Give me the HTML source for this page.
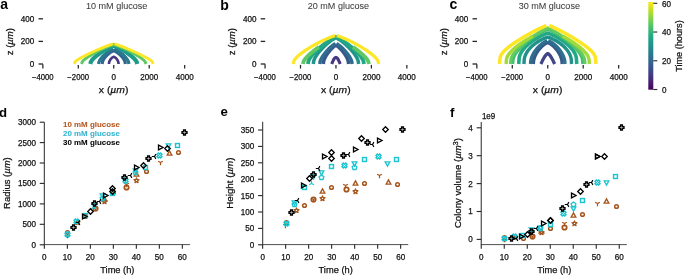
<!DOCTYPE html>
<html><head><meta charset="utf-8"><style>html,body{margin:0;padding:0;background:#fff;overflow:hidden}svg{display:block}text{font-family:"Liberation Sans", sans-serif}</style></head>
<body><svg width="685" height="275" viewBox="0 0 685 275" font-family='"Liberation Sans", sans-serif'><rect width="685" height="275" fill="#fff"/><path d="M108.95,64.00 L109.03,62.95 L109.11,62.51 L109.19,62.18 L109.27,61.90 L109.35,61.65 L109.43,61.43 L109.51,61.22 L109.59,61.03 L109.67,60.85 L109.75,60.68 L109.83,60.52 L109.91,60.37 L109.99,60.23 L110.07,60.09 L110.15,59.95 L110.23,59.82 L110.31,59.70 L110.39,59.58 L110.47,59.46 L110.55,59.35 L110.63,59.24 L110.71,59.13 L110.79,59.03 L110.87,58.93 L110.95,58.83 L111.03,58.74 L111.11,58.65 L111.19,58.56 L111.27,58.47 L111.35,58.39 L111.43,58.31 L111.51,58.23 L111.59,58.15 L111.67,58.07 L111.75,58.00 L111.83,57.93 L111.91,57.86 L111.99,57.79 L112.07,57.73 L112.15,57.66 L112.23,57.60 L112.31,57.54 L112.39,57.49 L112.47,57.43 L112.55,57.38 L112.63,57.33 L112.71,57.28 L112.79,57.23 L112.87,57.18 L112.95,57.14 L113.03,57.10 L113.11,57.05 L113.19,57.02 L113.27,56.98 L113.35,56.94 L113.43,56.91 L113.51,56.88 L113.59,56.85 L113.67,56.82 L113.75,56.80 L113.83,56.82 L113.91,56.85 L113.99,56.88 L114.07,56.91 L114.15,56.94 L114.23,56.98 L114.31,57.02 L114.39,57.05 L114.47,57.10 L114.55,57.14 L114.63,57.18 L114.71,57.23 L114.79,57.28 L114.87,57.33 L114.95,57.38 L115.03,57.43 L115.11,57.49 L115.19,57.54 L115.27,57.60 L115.35,57.66 L115.43,57.73 L115.51,57.79 L115.59,57.86 L115.67,57.93 L115.75,58.00 L115.83,58.07 L115.91,58.15 L115.99,58.23 L116.07,58.31 L116.15,58.39 L116.23,58.47 L116.31,58.56 L116.39,58.65 L116.47,58.74 L116.55,58.83 L116.63,58.93 L116.71,59.03 L116.79,59.13 L116.87,59.24 L116.95,59.35 L117.03,59.46 L117.11,59.58 L117.19,59.70 L117.27,59.82 L117.35,59.95 L117.43,60.09 L117.51,60.23 L117.59,60.37 L117.67,60.52 L117.75,60.68 L117.83,60.85 L117.91,61.03 L117.99,61.22 L118.07,61.43 L118.15,61.65 L118.23,61.90 L118.31,62.18 L118.39,62.51 L118.47,62.95 L118.55,64.00" fill="none" stroke="#453781" stroke-width="2.6" stroke-linejoin="round"/>
<path d="M102.15,64.00 L102.34,62.34 L102.54,61.65 L102.73,61.11 L102.92,60.65 L103.12,60.24 L103.31,59.87 L103.50,59.53 L103.70,59.20 L103.89,58.90 L104.08,58.61 L104.28,58.33 L104.47,58.06 L104.66,57.81 L104.86,57.56 L105.05,57.31 L105.24,57.08 L105.44,56.85 L105.63,56.63 L105.82,56.41 L106.02,56.20 L106.21,56.00 L106.40,55.79 L106.60,55.60 L106.79,55.40 L106.98,55.21 L107.18,55.03 L107.37,54.85 L107.56,54.67 L107.76,54.50 L107.95,54.32 L108.14,54.16 L108.34,53.99 L108.53,53.83 L108.72,53.68 L108.92,53.52 L109.11,53.37 L109.30,53.22 L109.50,53.08 L109.69,52.94 L109.88,52.80 L110.08,52.66 L110.27,52.53 L110.46,52.40 L110.66,52.28 L110.85,52.15 L111.04,52.03 L111.24,51.92 L111.43,51.80 L111.62,51.69 L111.82,51.59 L112.01,51.48 L112.20,51.38 L112.40,51.28 L112.59,51.19 L112.78,51.10 L112.98,51.01 L113.17,50.93 L113.36,50.85 L113.56,50.77 L113.75,50.70 L113.94,50.77 L114.14,50.85 L114.33,50.93 L114.52,51.01 L114.72,51.10 L114.91,51.19 L115.10,51.28 L115.30,51.38 L115.49,51.48 L115.68,51.59 L115.88,51.69 L116.07,51.80 L116.26,51.92 L116.46,52.03 L116.65,52.15 L116.84,52.28 L117.04,52.40 L117.23,52.53 L117.42,52.66 L117.62,52.80 L117.81,52.94 L118.00,53.08 L118.20,53.22 L118.39,53.37 L118.58,53.52 L118.78,53.68 L118.97,53.83 L119.16,53.99 L119.36,54.16 L119.55,54.32 L119.74,54.50 L119.94,54.67 L120.13,54.85 L120.32,55.03 L120.52,55.21 L120.71,55.40 L120.90,55.60 L121.10,55.79 L121.29,56.00 L121.48,56.20 L121.68,56.41 L121.87,56.63 L122.06,56.85 L122.26,57.08 L122.45,57.31 L122.64,57.56 L122.84,57.81 L123.03,58.06 L123.22,58.33 L123.42,58.61 L123.61,58.90 L123.80,59.20 L124.00,59.53 L124.19,59.87 L124.38,60.24 L124.58,60.65 L124.77,61.11 L124.96,61.65 L125.16,62.34 L125.35,64.00" fill="none" stroke="#31678e" stroke-width="3.2" stroke-linejoin="round"/>
<path d="M98.65,64.00 L98.89,62.31 L99.13,61.60 L99.38,61.04 L99.62,60.56 L99.86,60.14 L100.10,59.74 L100.34,59.37 L100.58,59.03 L100.83,58.70 L101.07,58.38 L101.31,58.07 L101.55,57.78 L101.79,57.49 L102.03,57.21 L102.28,56.94 L102.52,56.68 L102.76,56.42 L103.00,56.16 L103.24,55.92 L103.48,55.67 L103.72,55.43 L103.97,55.20 L104.21,54.97 L104.45,54.74 L104.69,54.51 L104.93,54.29 L105.17,54.08 L105.42,53.86 L105.66,53.65 L105.90,53.44 L106.14,53.24 L106.38,53.04 L106.62,52.84 L106.87,52.65 L107.11,52.45 L107.35,52.27 L107.59,52.08 L107.83,51.90 L108.08,51.72 L108.32,51.54 L108.56,51.37 L108.80,51.19 L109.04,51.03 L109.28,50.86 L109.53,50.70 L109.77,50.54 L110.01,50.38 L110.25,50.23 L110.49,50.08 L110.73,49.94 L110.97,49.79 L111.22,49.65 L111.46,49.52 L111.70,49.38 L111.94,49.25 L112.18,49.13 L112.42,49.01 L112.67,48.89 L112.91,48.77 L113.15,48.66 M114.35,48.66 L114.59,48.77 L114.83,48.89 L115.08,49.01 L115.32,49.13 L115.56,49.25 L115.80,49.38 L116.04,49.52 L116.28,49.65 L116.53,49.79 L116.77,49.94 L117.01,50.08 L117.25,50.23 L117.49,50.38 L117.73,50.54 L117.97,50.70 L118.22,50.86 L118.46,51.03 L118.70,51.19 L118.94,51.37 L119.18,51.54 L119.42,51.72 L119.67,51.90 L119.91,52.08 L120.15,52.27 L120.39,52.45 L120.63,52.65 L120.88,52.84 L121.12,53.04 L121.36,53.24 L121.60,53.44 L121.84,53.65 L122.08,53.86 L122.33,54.08 L122.57,54.29 L122.81,54.51 L123.05,54.74 L123.29,54.97 L123.53,55.20 L123.78,55.43 L124.02,55.67 L124.26,55.92 L124.50,56.16 L124.74,56.42 L124.98,56.68 L125.22,56.94 L125.47,57.21 L125.71,57.49 L125.95,57.78 L126.19,58.07 L126.43,58.38 L126.67,58.70 L126.92,59.03 L127.16,59.37 L127.40,59.74 L127.64,60.14 L127.88,60.56 L128.12,61.04 L128.37,61.60 L128.61,62.31 L128.85,64.00" fill="none" stroke="#2a788e" stroke-width="3.2" stroke-linejoin="round"/>
<path d="M90.35,64.00 L90.74,62.16 L91.13,61.37 L91.52,60.75 L91.91,60.21 L92.30,59.73 L92.69,59.28 L93.08,58.86 L93.47,58.46 L93.86,58.08 L94.25,57.71 L94.64,57.36 L95.03,57.01 L95.42,56.67 L95.81,56.35 L96.20,56.02 L96.59,55.71 L96.98,55.40 L97.37,55.10 L97.76,54.80 L98.15,54.50 L98.54,54.21 L98.93,53.93 L99.32,53.65 L99.71,53.37 L100.10,53.10 L100.49,52.83 L100.88,52.56 L101.27,52.30 L101.66,52.04 L102.05,51.78 L102.44,51.53 L102.83,51.28 L103.22,51.04 L103.61,50.80 L104.00,50.56 L104.39,50.32 L104.78,50.09 L105.17,49.86 L105.56,49.64 L105.95,49.41 L106.34,49.20 L106.73,48.98 L107.12,48.77 L107.51,48.56 L107.90,48.36 L108.29,48.16 L108.68,47.96 L109.07,47.77 L109.46,47.58 L109.85,47.40 L110.24,47.22 L110.63,47.04 L111.02,46.87 L111.41,46.71 L111.80,46.54 L112.19,46.39 L112.58,46.23 L112.97,46.08 L113.36,45.94 L113.75,45.80 L114.14,45.94 L114.53,46.08 L114.92,46.23 L115.31,46.39 L115.70,46.54 L116.09,46.71 L116.48,46.87 L116.87,47.04 L117.26,47.22 L117.65,47.40 L118.04,47.58 L118.43,47.77 L118.82,47.96 L119.21,48.16 L119.60,48.36 L119.99,48.56 L120.38,48.77 L120.77,48.98 L121.16,49.20 L121.55,49.41 L121.94,49.64 L122.33,49.86 L122.72,50.09 L123.11,50.32 L123.50,50.56 L123.89,50.80 L124.28,51.04 L124.67,51.28 L125.06,51.53 L125.45,51.78 L125.84,52.04 L126.23,52.30 L126.62,52.56 L127.01,52.83 L127.40,53.10 L127.79,53.37 L128.18,53.65 L128.57,53.93 L128.96,54.21 L129.35,54.50 L129.74,54.80 L130.13,55.10 L130.52,55.40 L130.91,55.71 L131.30,56.02 L131.69,56.35 L132.08,56.67 L132.47,57.01 L132.86,57.36 L133.25,57.71 L133.64,58.08 L134.03,58.46 L134.42,58.86 L134.81,59.28 L135.20,59.73 L135.59,60.21 L135.98,60.75 L136.37,61.37 L136.76,62.16 L137.15,64.00" fill="none" stroke="#1e9c89" stroke-width="4.2" stroke-linejoin="round"/>
<path d="M81.55,64.00 L82.09,62.21 L82.62,61.43 L83.16,60.82 L83.70,60.29 L84.23,59.80 L84.77,59.35 L85.31,58.92 L85.84,58.52 L86.38,58.12 L86.92,57.74 L87.45,57.38 L87.99,57.02 L88.53,56.66 L89.06,56.32 L89.60,55.98 L90.14,55.65 L90.67,55.32 L91.21,54.99 L91.75,54.68 L92.28,54.36 L92.82,54.05 L93.36,53.74 L93.89,53.44 L94.43,53.14 L94.97,52.84 L95.50,52.54 L96.04,52.25 L96.58,51.97 L97.11,51.68 L97.65,51.40 L98.19,51.12 L98.72,50.85 L99.26,50.57 L99.80,50.30 L100.33,50.04 L100.87,49.78 L101.41,49.52 L101.94,49.26 L102.48,49.01 L103.02,48.76 L103.55,48.51 L104.09,48.27 L104.63,48.03 L105.16,47.80 L105.70,47.56 L106.24,47.34 L106.77,47.11 L107.31,46.89 L107.85,46.68 L108.38,46.47 L108.92,46.26 L109.46,46.06 L109.99,45.86 L110.53,45.66 L111.07,45.47 L111.60,45.29 L112.14,45.11 L112.68,44.93 L113.21,44.76 L113.75,44.60 L114.29,44.76 L114.82,44.93 L115.36,45.11 L115.90,45.29 L116.43,45.47 L116.97,45.66 L117.51,45.86 L118.04,46.06 L118.58,46.26 L119.12,46.47 L119.65,46.68 L120.19,46.89 L120.73,47.11 L121.26,47.34 L121.80,47.56 L122.34,47.80 L122.87,48.03 L123.41,48.27 L123.95,48.51 L124.48,48.76 L125.02,49.01 L125.56,49.26 L126.09,49.52 L126.63,49.78 L127.17,50.04 L127.70,50.30 L128.24,50.57 L128.78,50.85 L129.31,51.12 L129.85,51.40 L130.39,51.68 L130.92,51.97 L131.46,52.25 L132.00,52.54 L132.53,52.84 L133.07,53.14 L133.61,53.44 L134.14,53.74 L134.68,54.05 L135.22,54.36 L135.75,54.68 L136.29,54.99 L136.83,55.32 L137.36,55.65 L137.90,55.98 L138.44,56.32 L138.97,56.66 L139.51,57.02 L140.05,57.38 L140.58,57.74 L141.12,58.12 L141.66,58.52 L142.19,58.92 L142.73,59.35 L143.27,59.80 L143.80,60.29 L144.34,60.82 L144.88,61.43 L145.41,62.21 L145.95,64.00" fill="none" stroke="#5ec962" stroke-width="2.9" stroke-linejoin="round"/>
<path d="M74.35,64.00 L75.00,62.02 L75.64,61.29 L76.28,60.73 L76.93,60.24 L77.58,59.79 L78.22,59.37 L78.87,58.98 L79.51,58.59 L80.16,58.22 L80.80,57.86 L81.44,57.51 L82.09,57.17 L82.73,56.83 L83.38,56.49 L84.03,56.16 L84.67,55.83 L85.31,55.51 L85.96,55.19 L86.61,54.87 L87.25,54.55 L87.90,54.24 L88.54,53.93 L89.19,53.62 L89.83,53.31 L90.47,53.00 L91.12,52.70 L91.77,52.40 L92.41,52.10 L93.06,51.80 L93.70,51.50 L94.34,51.21 L94.99,50.92 L95.64,50.63 L96.28,50.34 L96.92,50.06 L97.57,49.77 L98.22,49.49 L98.86,49.21 L99.51,48.94 L100.15,48.66 L100.80,48.39 L101.44,48.12 L102.09,47.86 L102.73,47.59 L103.38,47.33 L104.02,47.08 L104.66,46.82 L105.31,46.57 L105.95,46.32 L106.60,46.08 L107.24,45.83 L107.89,45.59 L108.53,45.36 L109.18,45.13 L109.83,44.90 L110.47,44.68 L111.11,44.46 L111.76,44.24 L112.41,44.03 L113.05,43.82 M114.45,43.82 L115.09,44.03 L115.74,44.24 L116.39,44.46 L117.03,44.68 L117.67,44.90 L118.32,45.13 L118.97,45.36 L119.61,45.59 L120.25,45.83 L120.90,46.08 L121.55,46.32 L122.19,46.57 L122.83,46.82 L123.48,47.08 L124.12,47.33 L124.77,47.59 L125.42,47.86 L126.06,48.12 L126.70,48.39 L127.35,48.66 L128.00,48.94 L128.64,49.21 L129.28,49.49 L129.93,49.77 L130.57,50.06 L131.22,50.34 L131.87,50.63 L132.51,50.92 L133.16,51.21 L133.80,51.50 L134.44,51.80 L135.09,52.10 L135.74,52.40 L136.38,52.70 L137.03,53.00 L137.67,53.31 L138.31,53.62 L138.96,53.93 L139.61,54.24 L140.25,54.55 L140.89,54.87 L141.54,55.19 L142.19,55.51 L142.83,55.83 L143.47,56.16 L144.12,56.49 L144.76,56.83 L145.41,57.17 L146.06,57.51 L146.70,57.86 L147.34,58.22 L147.99,58.59 L148.63,58.98 L149.28,59.37 L149.93,59.79 L150.57,60.24 L151.22,60.73 L151.86,61.29 L152.50,62.02 L153.15,64.00" fill="none" stroke="#fde725" stroke-width="2.8" stroke-linejoin="round"/>
<line x1="38.50" y1="18.80" x2="43.00" y2="18.80" stroke="#262626" stroke-width="1.3"/>
<line x1="38.50" y1="41.40" x2="43.00" y2="41.40" stroke="#262626" stroke-width="1.3"/>
<line x1="38.50" y1="64.00" x2="43.00" y2="64.00" stroke="#262626" stroke-width="1.3"/>
<line x1="42.85" y1="64.35" x2="42.85" y2="68.50" stroke="#262626" stroke-width="1.25"/>
<line x1="78.30" y1="64.90" x2="78.30" y2="68.50" stroke="#262626" stroke-width="1.25"/>
<line x1="113.75" y1="64.90" x2="113.75" y2="68.50" stroke="#262626" stroke-width="1.25"/>
<line x1="149.20" y1="64.90" x2="149.20" y2="68.50" stroke="#262626" stroke-width="1.25"/>
<line x1="184.65" y1="64.90" x2="184.65" y2="68.50" stroke="#262626" stroke-width="1.25"/>
<path d="M331.75,64.00 L331.82,63.80 L331.89,63.61 L331.96,63.42 L332.03,63.23 L332.10,63.04 L332.17,62.86 L332.24,62.68 L332.31,62.50 L332.38,62.33 L332.45,62.15 L332.52,61.98 L332.59,61.82 L332.66,61.65 L332.73,61.49 L332.80,61.33 L332.87,61.18 L332.94,61.02 L333.01,60.87 L333.08,60.73 L333.15,60.58 L333.22,60.44 L333.29,60.30 L333.36,60.16 L333.43,60.03 L333.50,59.90 L333.57,59.77 L333.64,59.65 L333.71,59.53 L333.78,59.41 L333.85,59.30 L333.92,59.18 L333.99,59.07 L334.06,58.97 L334.13,58.86 L334.20,58.77 L334.27,58.67 L334.34,58.57 L334.41,58.48 L334.48,58.40 L334.55,58.31 L334.62,58.23 L334.69,58.16 L334.76,58.08 L334.83,58.01 L334.90,57.94 L334.97,57.88 L335.04,57.82 L335.11,57.76 L335.18,57.71 L335.25,57.66 L335.32,57.62 L335.39,57.58 L335.46,57.54 L335.53,57.50 L335.60,57.48 L335.67,57.45 L335.74,57.43 L335.81,57.41 L335.88,57.40 L335.95,57.40 L336.02,57.40 L336.09,57.41 L336.16,57.43 L336.23,57.45 L336.30,57.48 L336.37,57.50 L336.44,57.54 L336.51,57.58 L336.58,57.62 L336.65,57.66 L336.72,57.71 L336.79,57.76 L336.86,57.82 L336.93,57.88 L337.00,57.94 L337.07,58.01 L337.14,58.08 L337.21,58.16 L337.28,58.23 L337.35,58.31 L337.42,58.40 L337.49,58.48 L337.56,58.57 L337.63,58.67 L337.70,58.77 L337.77,58.86 L337.84,58.97 L337.91,59.07 L337.98,59.18 L338.05,59.30 L338.12,59.41 L338.19,59.53 L338.26,59.65 L338.33,59.77 L338.40,59.90 L338.47,60.03 L338.54,60.16 L338.61,60.30 L338.68,60.44 L338.75,60.58 L338.82,60.73 L338.89,60.87 L338.96,61.02 L339.03,61.18 L339.10,61.33 L339.17,61.49 L339.24,61.65 L339.31,61.82 L339.38,61.98 L339.45,62.15 L339.52,62.33 L339.59,62.50 L339.66,62.68 L339.73,62.86 L339.80,63.04 L339.87,63.23 L339.94,63.42 L340.01,63.61 L340.08,63.80 L340.15,64.00" fill="none" stroke="#453781" stroke-width="3.1" stroke-linejoin="round"/>
<path d="M323.35,64.00 L323.56,61.86 L323.77,60.95 L323.98,60.25 L324.19,59.64 L324.40,59.10 L324.61,58.61 L324.82,58.15 L325.03,57.71 L325.24,57.30 L325.45,56.90 L325.66,56.52 L325.87,56.15 L326.08,55.79 L326.29,55.45 L326.50,55.11 L326.71,54.78 L326.92,54.46 L327.13,54.15 L327.34,53.84 L327.55,53.54 L327.76,53.24 L327.97,52.95 L328.18,52.67 L328.39,52.39 L328.60,52.11 L328.81,51.85 L329.02,51.58 L329.23,51.32 L329.44,51.06 L329.65,50.81 L329.86,50.56 L330.07,50.32 L330.28,50.08 L330.49,49.85 L330.70,49.62 L330.91,49.39 L331.12,49.17 L331.33,48.95 L331.54,48.73 L331.75,48.52 L331.96,48.31 L332.17,48.11 L332.38,47.91 L332.59,47.72 L332.80,47.53 L333.01,47.34 L333.22,47.16 L333.43,46.98 L333.64,46.81 L333.85,46.64 L334.06,46.47 L334.27,46.31 L334.48,46.16 L334.69,46.01 L334.90,45.86 L335.11,45.72 L335.32,45.58 L335.53,45.45 L335.74,45.32 L335.95,45.20 L336.16,45.32 L336.37,45.45 L336.58,45.58 L336.79,45.72 L337.00,45.86 L337.21,46.01 L337.42,46.16 L337.63,46.31 L337.84,46.47 L338.05,46.64 L338.26,46.81 L338.47,46.98 L338.68,47.16 L338.89,47.34 L339.10,47.53 L339.31,47.72 L339.52,47.91 L339.73,48.11 L339.94,48.31 L340.15,48.52 L340.36,48.73 L340.57,48.95 L340.78,49.17 L340.99,49.39 L341.20,49.62 L341.41,49.85 L341.62,50.08 L341.83,50.32 L342.04,50.56 L342.25,50.81 L342.46,51.06 L342.67,51.32 L342.88,51.58 L343.09,51.85 L343.30,52.11 L343.51,52.39 L343.72,52.67 L343.93,52.95 L344.14,53.24 L344.35,53.54 L344.56,53.84 L344.77,54.15 L344.98,54.46 L345.19,54.78 L345.40,55.11 L345.61,55.45 L345.82,55.79 L346.03,56.15 L346.24,56.52 L346.45,56.90 L346.66,57.30 L346.87,57.71 L347.08,58.15 L347.29,58.61 L347.50,59.10 L347.71,59.64 L347.92,60.25 L348.13,60.95 L348.34,61.86 L348.55,64.00" fill="none" stroke="#38588c" stroke-width="3.5" stroke-linejoin="round"/>
<path d="M319.85,64.00 L320.11,61.83 L320.37,60.91 L320.62,60.19 L320.88,59.57 L321.14,59.01 L321.40,58.50 L321.66,58.02 L321.92,57.57 L322.18,57.14 L322.43,56.72 L322.69,56.32 L322.95,55.93 L323.21,55.55 L323.47,55.18 L323.72,54.83 L323.98,54.47 L324.24,54.13 L324.50,53.79 L324.76,53.46 L325.02,53.14 L325.27,52.82 L325.53,52.51 L325.79,52.20 L326.05,51.89 L326.31,51.59 L326.57,51.30 L326.82,51.01 L327.08,50.72 L327.34,50.44 L327.60,50.16 L327.86,49.88 L328.12,49.61 L328.38,49.34 L328.63,49.08 L328.89,48.82 L329.15,48.57 L329.41,48.31 L329.67,48.07 L329.93,47.82 L330.18,47.58 L330.44,47.34 L330.70,47.11 L330.96,46.88 L331.22,46.66 L331.47,46.44 L331.73,46.22 L331.99,46.01 L332.25,45.80 L332.51,45.59 L332.77,45.39 L333.02,45.20 L333.28,45.01 L333.54,44.82 L333.80,44.64 L334.06,44.46 L334.32,44.28 L334.57,44.12 L334.83,43.95 L335.09,43.79 L335.35,43.64 M336.55,43.64 L336.81,43.79 L337.07,43.95 L337.32,44.12 L337.58,44.28 L337.84,44.46 L338.10,44.64 L338.36,44.82 L338.62,45.01 L338.88,45.20 L339.13,45.39 L339.39,45.59 L339.65,45.80 L339.91,46.01 L340.17,46.22 L340.43,46.44 L340.68,46.66 L340.94,46.88 L341.20,47.11 L341.46,47.34 L341.72,47.58 L341.97,47.82 L342.23,48.07 L342.49,48.31 L342.75,48.57 L343.01,48.82 L343.27,49.08 L343.52,49.34 L343.78,49.61 L344.04,49.88 L344.30,50.16 L344.56,50.44 L344.82,50.72 L345.07,51.01 L345.33,51.30 L345.59,51.59 L345.85,51.89 L346.11,52.20 L346.37,52.51 L346.62,52.82 L346.88,53.14 L347.14,53.46 L347.40,53.79 L347.66,54.13 L347.92,54.47 L348.18,54.83 L348.43,55.18 L348.69,55.55 L348.95,55.93 L349.21,56.32 L349.47,56.72 L349.72,57.14 L349.98,57.57 L350.24,58.02 L350.50,58.50 L350.76,59.01 L351.02,59.57 L351.27,60.19 L351.53,60.91 L351.79,61.83 L352.05,64.00" fill="none" stroke="#2f6c8e" stroke-width="3.5" stroke-linejoin="round"/>
<path d="M313.30,64.00 L313.68,61.19 L314.06,60.00 L314.43,59.06 L314.81,58.26 L315.19,57.54 L315.56,56.87 L315.94,56.25 L316.32,55.66 L316.70,55.09 L317.07,54.55 L317.45,54.03 L317.83,53.52 L318.21,53.03 L318.58,52.55 L318.96,52.08 L319.34,51.63 L319.72,51.18 L320.09,50.74 L320.47,50.31 L320.85,49.89 L321.23,49.47 L321.61,49.06 L321.98,48.66 L322.36,48.26 L322.74,47.87 L323.12,47.49 L323.49,47.11 L323.87,46.74 L324.25,46.37 L324.62,46.01 L325.00,45.65 L325.38,45.30 L325.76,44.95 L326.13,44.61 L326.51,44.28 L326.89,43.95 L327.27,43.62 L327.64,43.30 L328.02,42.99 L328.40,42.68 L328.78,42.37 L329.15,42.07 L329.53,41.78 L329.91,41.49 L330.29,41.21 L330.66,40.93 L331.04,40.66 L331.42,40.40 L331.80,40.14 L332.18,39.88 L332.55,39.64 L332.93,39.39 L333.31,39.16 L333.69,38.93 L334.06,38.71 L334.44,38.49 L334.82,38.28 L335.19,38.08 L335.57,37.89 L335.95,37.70 L336.33,37.89 L336.70,38.08 L337.08,38.28 L337.46,38.49 L337.84,38.71 L338.21,38.93 L338.59,39.16 L338.97,39.39 L339.35,39.64 L339.72,39.88 L340.10,40.14 L340.48,40.40 L340.86,40.66 L341.24,40.93 L341.61,41.21 L341.99,41.49 L342.37,41.78 L342.75,42.07 L343.12,42.37 L343.50,42.68 L343.88,42.99 L344.25,43.30 L344.63,43.62 L345.01,43.95 L345.39,44.28 L345.76,44.61 L346.14,44.95 L346.52,45.30 L346.90,45.65 L347.27,46.01 L347.65,46.37 L348.03,46.74 L348.41,47.11 L348.78,47.49 L349.16,47.87 L349.54,48.26 L349.92,48.66 L350.29,49.06 L350.67,49.47 L351.05,49.89 L351.43,50.31 L351.81,50.74 L352.18,51.18 L352.56,51.63 L352.94,52.08 L353.31,52.55 L353.69,53.03 L354.07,53.52 L354.45,54.03 L354.82,54.55 L355.20,55.09 L355.58,55.66 L355.96,56.25 L356.33,56.87 L356.71,57.54 L357.09,58.26 L357.47,59.06 L357.84,60.00 L358.22,61.19 L358.60,64.00" fill="none" stroke="#1f958b" stroke-width="3.5" stroke-linejoin="round"/>
<path d="M307.95,64.00 L308.42,61.26 L308.88,60.09 L309.35,59.17 L309.82,58.38 L310.28,57.66 L310.75,57.00 L311.22,56.37 L311.68,55.78 L312.15,55.22 L312.62,54.67 L313.08,54.14 L313.55,53.63 L314.02,53.13 L314.48,52.65 L314.95,52.17 L315.42,51.70 L315.88,51.24 L316.35,50.79 L316.82,50.35 L317.28,49.91 L317.75,49.48 L318.22,49.06 L318.68,48.64 L319.15,48.23 L319.62,47.83 L320.08,47.43 L320.55,47.03 L321.02,46.64 L321.48,46.26 L321.95,45.88 L322.42,45.50 L322.88,45.14 L323.35,44.77 L323.82,44.41 L324.28,44.06 L324.75,43.71 L325.22,43.36 L325.68,43.03 L326.15,42.69 L326.62,42.36 L327.08,42.04 L327.55,41.72 L328.02,41.41 L328.48,41.10 L328.95,40.80 L329.42,40.50 L329.88,40.21 L330.35,39.93 L330.82,39.65 L331.28,39.37 L331.75,39.11 L332.22,38.85 L332.68,38.59 L333.15,38.34 L333.62,38.10 L334.08,37.87 L334.55,37.64 L335.02,37.42 L335.48,37.21 L335.95,37.00 L336.42,37.21 L336.88,37.42 L337.35,37.64 L337.82,37.87 L338.28,38.10 L338.75,38.34 L339.22,38.59 L339.68,38.85 L340.15,39.11 L340.62,39.37 L341.08,39.65 L341.55,39.93 L342.02,40.21 L342.48,40.50 L342.95,40.80 L343.42,41.10 L343.88,41.41 L344.35,41.72 L344.82,42.04 L345.28,42.36 L345.75,42.69 L346.22,43.03 L346.68,43.36 L347.15,43.71 L347.62,44.06 L348.08,44.41 L348.55,44.77 L349.02,45.14 L349.48,45.50 L349.95,45.88 L350.42,46.26 L350.88,46.64 L351.35,47.03 L351.82,47.43 L352.28,47.83 L352.75,48.23 L353.22,48.64 L353.68,49.06 L354.15,49.48 L354.62,49.91 L355.08,50.35 L355.55,50.79 L356.02,51.24 L356.48,51.70 L356.95,52.17 L357.42,52.65 L357.88,53.13 L358.35,53.63 L358.82,54.14 L359.28,54.67 L359.75,55.22 L360.22,55.78 L360.68,56.37 L361.15,57.00 L361.62,57.66 L362.08,58.38 L362.55,59.17 L363.02,60.09 L363.48,61.26 L363.95,64.00" fill="none" stroke="#22a884" stroke-width="3.8" stroke-linejoin="round"/>
<path d="M303.05,64.00 L303.31,62.28 L303.58,61.55 L303.84,60.98 L304.11,60.49 L304.38,60.05 L304.64,59.65 L304.90,59.28 L305.17,58.93 L305.44,58.59 L305.70,58.26 L305.96,57.95 L306.23,57.65 L306.50,57.36 L306.76,57.07 L307.02,56.79 L307.29,56.52 L307.56,56.25 L307.82,55.98 L308.08,55.72 L308.35,55.47 L308.62,55.22 L308.88,54.97 L309.14,54.72 L309.41,54.48 L309.68,54.24 L309.94,54.00 L310.20,53.77 L310.47,53.53 L310.74,53.30 L311.00,53.07 L311.26,52.85 L311.53,52.62 L311.80,52.40 L312.06,52.18 L312.32,51.96 L312.59,51.74 L312.86,51.52 L313.12,51.30 L313.38,51.09 L313.65,50.88 L313.91,50.66 L314.18,50.45 L314.44,50.24 L314.71,50.04 L314.97,49.83 L315.24,49.62 L315.50,49.42 L315.77,49.22 L316.03,49.01 L316.30,48.81 L316.56,48.61 L316.83,48.41 L317.09,48.21 L317.36,48.02 L317.62,47.82 L317.89,47.63 L318.15,47.43 L318.42,47.24 L318.69,47.05 L318.95,46.86 M352.95,46.86 L353.21,47.05 L353.48,47.24 L353.75,47.43 L354.01,47.63 L354.27,47.82 L354.54,48.02 L354.81,48.21 L355.07,48.41 L355.33,48.61 L355.60,48.81 L355.87,49.01 L356.13,49.22 L356.39,49.42 L356.66,49.62 L356.93,49.83 L357.19,50.04 L357.45,50.24 L357.72,50.45 L357.99,50.66 L358.25,50.88 L358.51,51.09 L358.78,51.30 L359.04,51.52 L359.31,51.74 L359.57,51.96 L359.84,52.18 L360.10,52.40 L360.37,52.62 L360.63,52.85 L360.90,53.07 L361.16,53.30 L361.43,53.53 L361.69,53.77 L361.96,54.00 L362.22,54.24 L362.49,54.48 L362.75,54.72 L363.02,54.97 L363.28,55.22 L363.55,55.47 L363.81,55.72 L364.08,55.98 L364.34,56.25 L364.61,56.52 L364.88,56.79 L365.14,57.07 L365.40,57.36 L365.67,57.65 L365.94,57.95 L366.20,58.26 L366.46,58.59 L366.73,58.93 L367.00,59.28 L367.26,59.65 L367.52,60.05 L367.79,60.49 L368.06,60.98 L368.32,61.55 L368.58,62.28 L368.85,64.00" fill="none" stroke="#5ec962" stroke-width="3.8" stroke-linejoin="round"/>
<path d="M293.15,64.00 L293.85,61.13 L294.55,59.90 L295.25,58.94 L295.95,58.10 L296.65,57.35 L297.35,56.66 L298.05,56.01 L298.75,55.39 L299.45,54.80 L300.15,54.23 L300.85,53.67 L301.55,53.14 L302.25,52.62 L302.95,52.11 L303.65,51.61 L304.35,51.12 L305.05,50.64 L305.75,50.17 L306.45,49.71 L307.15,49.25 L307.85,48.80 L308.55,48.36 L309.25,47.92 L309.95,47.49 L310.65,47.07 L311.35,46.65 L312.05,46.24 L312.75,45.83 L313.45,45.43 L314.15,45.03 L314.85,44.64 L315.55,44.25 L316.25,43.87 L316.95,43.49 L317.65,43.12 L318.35,42.75 L319.05,42.39 L319.75,42.04 L320.45,41.69 L321.15,41.34 L321.85,41.00 L322.55,40.66 L323.25,40.33 L323.95,40.01 L324.65,39.69 L325.35,39.38 L326.05,39.07 L326.75,38.77 L327.45,38.47 L328.15,38.19 L328.85,37.90 L329.55,37.62 L330.25,37.35 L330.95,37.09 L331.65,36.83 L332.35,36.58 L333.05,36.34 L333.75,36.10 L334.45,35.87 L335.15,35.65 M336.75,35.65 L337.45,35.87 L338.15,36.10 L338.85,36.34 L339.55,36.58 L340.25,36.83 L340.95,37.09 L341.65,37.35 L342.35,37.62 L343.05,37.90 L343.75,38.19 L344.45,38.47 L345.15,38.77 L345.85,39.07 L346.55,39.38 L347.25,39.69 L347.95,40.01 L348.65,40.33 L349.35,40.66 L350.05,41.00 L350.75,41.34 L351.45,41.69 L352.15,42.04 L352.85,42.39 L353.55,42.75 L354.25,43.12 L354.95,43.49 L355.65,43.87 L356.35,44.25 L357.05,44.64 L357.75,45.03 L358.45,45.43 L359.15,45.83 L359.85,46.24 L360.55,46.65 L361.25,47.07 L361.95,47.49 L362.65,47.92 L363.35,48.36 L364.05,48.80 L364.75,49.25 L365.45,49.71 L366.15,50.17 L366.85,50.64 L367.55,51.12 L368.25,51.61 L368.95,52.11 L369.65,52.62 L370.35,53.14 L371.05,53.67 L371.75,54.23 L372.45,54.80 L373.15,55.39 L373.85,56.01 L374.55,56.66 L375.25,57.35 L375.95,58.10 L376.65,58.94 L377.35,59.90 L378.05,61.13 L378.75,64.00" fill="none" stroke="#fde725" stroke-width="3.2" stroke-linejoin="round"/>
<line x1="260.70" y1="18.80" x2="265.20" y2="18.80" stroke="#262626" stroke-width="1.3"/>
<line x1="260.70" y1="41.40" x2="265.20" y2="41.40" stroke="#262626" stroke-width="1.3"/>
<line x1="260.70" y1="64.00" x2="265.20" y2="64.00" stroke="#262626" stroke-width="1.3"/>
<line x1="265.05" y1="64.35" x2="265.05" y2="68.50" stroke="#262626" stroke-width="1.25"/>
<line x1="300.50" y1="64.90" x2="300.50" y2="68.50" stroke="#262626" stroke-width="1.25"/>
<line x1="335.95" y1="64.90" x2="335.95" y2="68.50" stroke="#262626" stroke-width="1.25"/>
<line x1="371.40" y1="64.90" x2="371.40" y2="68.50" stroke="#262626" stroke-width="1.25"/>
<line x1="406.85" y1="64.90" x2="406.85" y2="68.50" stroke="#262626" stroke-width="1.25"/>
<path d="M540.85,64.00 L540.97,63.74 L541.08,63.48 L541.20,63.23 L541.31,62.98 L541.42,62.73 L541.54,62.48 L541.65,62.23 L541.77,61.99 L541.88,61.75 L542.00,61.51 L542.12,61.28 L542.23,61.04 L542.35,60.81 L542.46,60.58 L542.58,60.35 L542.69,60.13 L542.80,59.91 L542.92,59.69 L543.03,59.47 L543.15,59.26 L543.26,59.05 L543.38,58.84 L543.50,58.64 L543.61,58.43 L543.73,58.23 L543.84,58.04 L543.96,57.84 L544.07,57.65 L544.18,57.46 L544.30,57.28 L544.41,57.09 L544.53,56.92 L544.64,56.74 L544.76,56.57 L544.88,56.40 L544.99,56.23 L545.11,56.07 L545.22,55.91 L545.34,55.75 L545.45,55.60 L545.57,55.45 L545.68,55.31 L545.79,55.17 L545.91,55.03 L546.02,54.90 L546.14,54.77 L546.25,54.65 L546.37,54.53 L546.49,54.42 L546.60,54.31 L546.72,54.20 L546.83,54.11 L546.95,54.01 L547.06,53.93 L547.17,53.85 L547.29,53.78 L547.40,53.72 L547.52,53.66 L547.63,53.62 L547.75,53.60 L547.87,53.62 L547.98,53.66 L548.10,53.72 L548.21,53.78 L548.33,53.85 L548.44,53.93 L548.55,54.01 L548.67,54.11 L548.78,54.20 L548.90,54.31 L549.01,54.42 L549.13,54.53 L549.25,54.65 L549.36,54.77 L549.48,54.90 L549.59,55.03 L549.71,55.17 L549.82,55.31 L549.93,55.45 L550.05,55.60 L550.16,55.75 L550.28,55.91 L550.39,56.07 L550.51,56.23 L550.62,56.40 L550.74,56.57 L550.86,56.74 L550.97,56.92 L551.09,57.09 L551.20,57.28 L551.32,57.46 L551.43,57.65 L551.54,57.84 L551.66,58.04 L551.77,58.23 L551.89,58.43 L552.00,58.64 L552.12,58.84 L552.24,59.05 L552.35,59.26 L552.47,59.47 L552.58,59.69 L552.70,59.91 L552.81,60.13 L552.92,60.35 L553.04,60.58 L553.15,60.81 L553.27,61.04 L553.38,61.28 L553.50,61.51 L553.62,61.75 L553.73,61.99 L553.85,62.23 L553.96,62.48 L554.08,62.73 L554.19,62.98 L554.30,63.23 L554.42,63.48 L554.53,63.74 L554.65,64.00" fill="none" stroke="#414487" stroke-width="3.3" stroke-linejoin="round"/>
<path d="M533.35,64.00 L533.59,61.07 L533.83,59.84 L534.07,58.90 L534.31,58.11 L534.55,57.41 L534.79,56.77 L535.03,56.18 L535.27,55.64 L535.51,55.12 L535.75,54.64 L535.99,54.17 L536.23,53.73 L536.47,53.30 L536.71,52.89 L536.95,52.50 L537.19,52.12 L537.43,51.75 L537.67,51.39 L537.91,51.04 L538.15,50.71 L538.39,50.38 L538.63,50.06 L538.87,49.75 L539.11,49.45 L539.35,49.15 L539.59,48.87 L539.83,48.58 L540.07,48.31 L540.31,48.04 L540.55,47.78 L540.79,47.53 L541.03,47.28 L541.27,47.04 L541.51,46.80 L541.75,46.57 L541.99,46.35 L542.23,46.13 L542.47,45.92 L542.71,45.71 L542.95,45.51 L543.19,45.31 L543.43,45.12 L543.67,44.93 L543.91,44.75 L544.15,44.57 L544.39,44.40 L544.63,44.24 L544.87,44.08 L545.11,43.93 L545.35,43.78 L545.59,43.64 L545.83,43.50 L546.07,43.37 L546.31,43.24 L546.55,43.12 L546.79,43.00 L547.03,42.89 L547.27,42.79 L547.51,42.69 L547.75,42.60 L547.99,42.69 L548.23,42.79 L548.47,42.89 L548.71,43.00 L548.95,43.12 L549.19,43.24 L549.43,43.37 L549.67,43.50 L549.91,43.64 L550.15,43.78 L550.39,43.93 L550.63,44.08 L550.87,44.24 L551.11,44.40 L551.35,44.57 L551.59,44.75 L551.83,44.93 L552.07,45.12 L552.31,45.31 L552.55,45.51 L552.79,45.71 L553.03,45.92 L553.27,46.13 L553.51,46.35 L553.75,46.57 L553.99,46.80 L554.23,47.04 L554.47,47.28 L554.71,47.53 L554.95,47.78 L555.19,48.04 L555.43,48.31 L555.67,48.58 L555.91,48.87 L556.15,49.15 L556.39,49.45 L556.63,49.75 L556.87,50.06 L557.11,50.38 L557.35,50.71 L557.59,51.04 L557.83,51.39 L558.07,51.75 L558.31,52.12 L558.55,52.50 L558.79,52.89 L559.03,53.30 L559.27,53.73 L559.51,54.17 L559.75,54.64 L559.99,55.12 L560.23,55.64 L560.47,56.18 L560.71,56.77 L560.95,57.41 L561.19,58.11 L561.43,58.90 L561.67,59.84 L561.91,61.07 L562.15,64.00" fill="none" stroke="#375a8c" stroke-width="3.3" stroke-linejoin="round"/>
<path d="M530.45,64.00 L530.73,60.84 L531.01,59.52 L531.29,58.51 L531.57,57.65 L531.85,56.90 L532.13,56.21 L532.41,55.58 L532.69,54.99 L532.97,54.44 L533.25,53.91 L533.53,53.41 L533.81,52.93 L534.09,52.48 L534.37,52.03 L534.65,51.61 L534.93,51.20 L535.21,50.80 L535.49,50.42 L535.77,50.04 L536.05,49.68 L536.33,49.32 L536.61,48.98 L536.89,48.64 L537.17,48.32 L537.45,48.00 L537.73,47.69 L538.01,47.38 L538.29,47.09 L538.57,46.80 L538.85,46.51 L539.13,46.24 L539.41,45.97 L539.69,45.71 L539.97,45.45 L540.25,45.20 L540.53,44.95 L540.81,44.72 L541.09,44.48 L541.37,44.25 L541.65,44.03 L541.93,43.82 L542.21,43.61 L542.49,43.40 L542.77,43.20 L543.05,43.01 L543.33,42.82 L543.61,42.64 L543.89,42.46 L544.17,42.29 L544.45,42.13 L544.73,41.96 L545.01,41.81 L545.29,41.66 L545.57,41.52 L545.85,41.38 L546.13,41.25 L546.41,41.12 L546.69,41.00 L546.97,40.89 L547.25,40.78 M548.25,40.78 L548.53,40.89 L548.81,41.00 L549.09,41.12 L549.37,41.25 L549.65,41.38 L549.93,41.52 L550.21,41.66 L550.49,41.81 L550.77,41.96 L551.05,42.13 L551.33,42.29 L551.61,42.46 L551.89,42.64 L552.17,42.82 L552.45,43.01 L552.73,43.20 L553.01,43.40 L553.29,43.61 L553.57,43.82 L553.85,44.03 L554.13,44.25 L554.41,44.48 L554.69,44.72 L554.97,44.95 L555.25,45.20 L555.53,45.45 L555.81,45.71 L556.09,45.97 L556.37,46.24 L556.65,46.51 L556.93,46.80 L557.21,47.09 L557.49,47.38 L557.77,47.69 L558.05,48.00 L558.33,48.32 L558.61,48.64 L558.89,48.98 L559.17,49.32 L559.45,49.68 L559.73,50.04 L560.01,50.42 L560.29,50.80 L560.57,51.20 L560.85,51.61 L561.13,52.03 L561.41,52.48 L561.69,52.93 L561.97,53.41 L562.25,53.91 L562.53,54.44 L562.81,54.99 L563.09,55.58 L563.37,56.21 L563.65,56.90 L563.93,57.65 L564.21,58.51 L564.49,59.52 L564.77,60.84 L565.05,64.00" fill="none" stroke="#2e6f8e" stroke-width="3.3" stroke-linejoin="round"/>
<path d="M523.90,64.00 L524.30,58.83 L524.70,57.17 L525.09,55.95 L525.49,54.95 L525.89,54.08 L526.28,53.31 L526.68,52.61 L527.08,51.96 L527.48,51.36 L527.88,50.80 L528.27,50.26 L528.67,49.75 L529.07,49.27 L529.47,48.80 L529.86,48.36 L530.26,47.93 L530.66,47.51 L531.05,47.11 L531.45,46.72 L531.85,46.35 L532.25,45.98 L532.64,45.63 L533.04,45.28 L533.44,44.94 L533.84,44.62 L534.24,44.30 L534.63,43.99 L535.03,43.68 L535.43,43.39 L535.83,43.10 L536.22,42.82 L536.62,42.54 L537.02,42.27 L537.41,42.01 L537.81,41.75 L538.21,41.50 L538.61,41.26 L539.00,41.02 L539.40,40.79 L539.80,40.56 L540.20,40.34 L540.60,40.13 L540.99,39.92 L541.39,39.71 L541.79,39.52 L542.18,39.32 L542.58,39.13 L542.98,38.95 L543.38,38.78 L543.77,38.60 L544.17,38.44 L544.57,38.28 L544.97,38.12 L545.37,37.97 L545.76,37.83 L546.16,37.69 L546.56,37.56 L546.96,37.44 L547.35,37.31 L547.75,37.20 L548.15,37.31 L548.54,37.44 L548.94,37.56 L549.34,37.69 L549.74,37.83 L550.13,37.97 L550.53,38.12 L550.93,38.28 L551.33,38.44 L551.73,38.60 L552.12,38.78 L552.52,38.95 L552.92,39.13 L553.32,39.32 L553.71,39.52 L554.11,39.71 L554.51,39.92 L554.90,40.13 L555.30,40.34 L555.70,40.56 L556.10,40.79 L556.50,41.02 L556.89,41.26 L557.29,41.50 L557.69,41.75 L558.09,42.01 L558.48,42.27 L558.88,42.54 L559.28,42.82 L559.67,43.10 L560.07,43.39 L560.47,43.68 L560.87,43.99 L561.26,44.30 L561.66,44.62 L562.06,44.94 L562.46,45.28 L562.86,45.63 L563.25,45.98 L563.65,46.35 L564.05,46.72 L564.45,47.11 L564.84,47.51 L565.24,47.93 L565.64,48.36 L566.03,48.80 L566.43,49.27 L566.83,49.75 L567.23,50.26 L567.62,50.80 L568.02,51.36 L568.42,51.96 L568.82,52.61 L569.22,53.31 L569.61,54.08 L570.01,54.95 L570.41,55.95 L570.80,57.17 L571.20,58.83 L571.60,64.00" fill="none" stroke="#21918c" stroke-width="3.4" stroke-linejoin="round"/>
<path d="M518.70,64.00 L519.18,57.58 L519.67,55.78 L520.15,54.48 L520.64,53.42 L521.12,52.51 L521.61,51.70 L522.09,50.96 L522.57,50.28 L523.06,49.64 L523.54,49.04 L524.03,48.47 L524.51,47.92 L524.99,47.40 L525.48,46.90 L525.96,46.42 L526.45,45.95 L526.93,45.50 L527.41,45.06 L527.90,44.63 L528.38,44.21 L528.87,43.81 L529.35,43.41 L529.84,43.02 L530.32,42.64 L530.80,42.27 L531.29,41.91 L531.77,41.55 L532.26,41.21 L532.74,40.87 L533.23,40.53 L533.71,40.20 L534.19,39.88 L534.68,39.56 L535.16,39.25 L535.65,38.95 L536.13,38.65 L536.61,38.36 L537.10,38.07 L537.58,37.79 L538.07,37.51 L538.55,37.24 L539.03,36.97 L539.52,36.71 L540.00,36.46 L540.49,36.21 L540.97,35.96 L541.46,35.72 L541.94,35.49 L542.42,35.26 L542.91,35.04 L543.39,34.82 L543.88,34.60 L544.36,34.40 L544.85,34.19 L545.33,34.00 L545.81,33.81 L546.30,33.62 L546.78,33.44 L547.27,33.27 L547.75,33.10 L548.23,33.27 L548.72,33.44 L549.20,33.62 L549.69,33.81 L550.17,34.00 L550.65,34.19 L551.14,34.40 L551.62,34.60 L552.11,34.82 L552.59,35.04 L553.08,35.26 L553.56,35.49 L554.04,35.72 L554.53,35.96 L555.01,36.21 L555.50,36.46 L555.98,36.71 L556.47,36.97 L556.95,37.24 L557.43,37.51 L557.92,37.79 L558.40,38.07 L558.89,38.36 L559.37,38.65 L559.85,38.95 L560.34,39.25 L560.82,39.56 L561.31,39.88 L561.79,40.20 L562.27,40.53 L562.76,40.87 L563.24,41.21 L563.73,41.55 L564.21,41.91 L564.70,42.27 L565.18,42.64 L565.66,43.02 L566.15,43.41 L566.63,43.81 L567.12,44.21 L567.60,44.63 L568.09,45.06 L568.57,45.50 L569.05,45.95 L569.54,46.42 L570.02,46.90 L570.51,47.40 L570.99,47.92 L571.47,48.47 L571.96,49.04 L572.44,49.64 L572.93,50.28 L573.41,50.96 L573.89,51.70 L574.38,52.51 L574.86,53.42 L575.35,54.48 L575.83,55.78 L576.32,57.58 L576.80,64.00" fill="none" stroke="#22a884" stroke-width="3.6" stroke-linejoin="round"/>
<path d="M512.75,64.00 L513.33,58.81 L513.92,57.09 L514.50,55.80 L515.08,54.73 L515.67,53.78 L516.25,52.92 L516.83,52.13 L517.42,51.38 L518.00,50.68 L518.58,50.00 L519.17,49.36 L519.75,48.73 L520.33,48.13 L520.92,47.54 L521.50,46.97 L522.08,46.42 L522.67,45.87 L523.25,45.34 L523.83,44.82 L524.42,44.31 L525.00,43.81 L525.58,43.31 L526.17,42.83 L526.75,42.35 L527.33,41.88 L527.92,41.42 L528.50,40.96 L529.08,40.51 L529.67,40.07 L530.25,39.64 L530.83,39.21 L531.42,38.78 L532.00,38.37 L532.58,37.96 L533.17,37.55 L533.75,37.15 L534.33,36.76 L534.92,36.37 L535.50,35.99 L536.08,35.61 L536.67,35.24 L537.25,34.88 L537.83,34.52 L538.42,34.17 L539.00,33.82 L539.58,33.48 L540.17,33.15 L540.75,32.82 L541.33,32.50 L541.92,32.18 L542.50,31.87 L543.08,31.57 L543.67,31.28 L544.25,30.99 L544.83,30.70 L545.42,30.43 L546.00,30.16 L546.58,29.90 L547.17,29.65 L547.75,29.40 L548.33,29.65 L548.92,29.90 L549.50,30.16 L550.08,30.43 L550.67,30.70 L551.25,30.99 L551.83,31.28 L552.42,31.57 L553.00,31.87 L553.58,32.18 L554.17,32.50 L554.75,32.82 L555.33,33.15 L555.92,33.48 L556.50,33.82 L557.08,34.17 L557.67,34.52 L558.25,34.88 L558.83,35.24 L559.42,35.61 L560.00,35.99 L560.58,36.37 L561.17,36.76 L561.75,37.15 L562.33,37.55 L562.92,37.96 L563.50,38.37 L564.08,38.78 L564.67,39.21 L565.25,39.64 L565.83,40.07 L566.42,40.51 L567.00,40.96 L567.58,41.42 L568.17,41.88 L568.75,42.35 L569.33,42.83 L569.92,43.31 L570.50,43.81 L571.08,44.31 L571.67,44.82 L572.25,45.34 L572.83,45.87 L573.42,46.42 L574.00,46.97 L574.58,47.54 L575.17,48.13 L575.75,48.73 L576.33,49.36 L576.92,50.00 L577.50,50.68 L578.08,51.38 L578.67,52.13 L579.25,52.92 L579.83,53.78 L580.42,54.73 L581.00,55.80 L581.58,57.09 L582.17,58.81 L582.75,64.00" fill="none" stroke="#44bf70" stroke-width="3.0" stroke-linejoin="round"/>
<path d="M510.35,64.00 L510.97,58.87 L511.60,57.16 L512.22,55.88 L512.84,54.80 L513.47,53.85 L514.09,52.98 L514.71,52.17 L515.34,51.41 L515.96,50.69 L516.58,50.00 L517.21,49.33 L517.83,48.69 L518.45,48.06 L519.08,47.46 L519.70,46.87 L520.32,46.29 L520.95,45.72 L521.57,45.16 L522.19,44.62 L522.82,44.08 L523.44,43.55 L524.06,43.03 L524.69,42.52 L525.31,42.02 L525.93,41.52 L526.56,41.03 L527.18,40.55 L527.80,40.07 L528.43,39.60 L529.05,39.13 L529.67,38.67 L530.30,38.22 L530.92,37.77 L531.54,37.33 L532.17,36.90 L532.79,36.47 L533.41,36.04 L534.04,35.63 L534.66,35.21 L535.28,34.81 L535.91,34.41 L536.53,34.01 L537.15,33.62 L537.78,33.24 L538.40,32.86 L539.02,32.49 L539.65,32.13 L540.27,31.77 L540.89,31.42 L541.52,31.07 L542.14,30.73 L542.76,30.40 L543.39,30.08 L544.01,29.76 L544.63,29.45 L545.26,29.14 L545.88,28.85 L546.50,28.56 L547.13,28.27 L547.75,28.00 L548.37,28.27 L549.00,28.56 L549.62,28.85 L550.24,29.14 L550.87,29.45 L551.49,29.76 L552.11,30.08 L552.74,30.40 L553.36,30.73 L553.98,31.07 L554.61,31.42 L555.23,31.77 L555.85,32.13 L556.48,32.49 L557.10,32.86 L557.72,33.24 L558.35,33.62 L558.97,34.01 L559.59,34.41 L560.22,34.81 L560.84,35.21 L561.46,35.63 L562.09,36.04 L562.71,36.47 L563.33,36.90 L563.96,37.33 L564.58,37.77 L565.20,38.22 L565.83,38.67 L566.45,39.13 L567.07,39.60 L567.70,40.07 L568.32,40.55 L568.94,41.03 L569.57,41.52 L570.19,42.02 L570.81,42.52 L571.44,43.03 L572.06,43.55 L572.68,44.08 L573.31,44.62 L573.93,45.16 L574.55,45.72 L575.18,46.29 L575.80,46.87 L576.42,47.46 L577.05,48.06 L577.67,48.69 L578.29,49.33 L578.92,50.00 L579.54,50.69 L580.16,51.41 L580.79,52.17 L581.41,52.98 L582.03,53.85 L582.66,54.80 L583.28,55.88 L583.90,57.16 L584.53,58.87 L585.15,64.00" fill="none" stroke="#63cb5f" stroke-width="3.0" stroke-linejoin="round"/>
<path d="M506.10,64.00 L506.54,58.96 L506.99,57.53 L507.43,56.50 L507.88,55.65 L508.32,54.91 L508.76,54.25 L509.21,53.64 L509.65,53.08 L510.10,52.55 L510.54,52.04 L510.99,51.56 L511.43,51.10 L511.87,50.66 L512.32,50.23 L512.76,49.81 L513.21,49.40 L513.65,49.01 L514.10,48.62 L514.54,48.24 L514.98,47.87 L515.43,47.50 L515.87,47.15 L516.32,46.79 L516.76,46.45 L517.20,46.10 L517.65,45.76 L518.09,45.43 L518.54,45.10 L518.98,44.78 L519.42,44.45 L519.87,44.14 L520.31,43.82 L520.76,43.51 L521.20,43.20 L521.65,42.90 L522.09,42.60 L522.53,42.30 L522.98,42.00 L523.42,41.71 L523.87,41.41 L524.31,41.13 L524.75,40.84 L525.20,40.55 L525.64,40.27 L526.09,39.99 L526.53,39.72 L526.98,39.44 L527.42,39.17 L527.86,38.90 L528.31,38.63 L528.75,38.36 L529.20,38.10 L529.64,37.84 L530.09,37.58 L530.53,37.32 L530.97,37.07 L531.42,36.81 L531.86,36.56 L532.31,36.31 L532.75,36.06 M562.75,36.06 L563.19,36.31 L563.64,36.56 L564.08,36.81 L564.53,37.07 L564.97,37.32 L565.41,37.58 L565.86,37.84 L566.30,38.10 L566.75,38.36 L567.19,38.63 L567.64,38.90 L568.08,39.17 L568.52,39.44 L568.97,39.72 L569.41,39.99 L569.86,40.27 L570.30,40.55 L570.75,40.84 L571.19,41.13 L571.63,41.41 L572.08,41.71 L572.52,42.00 L572.97,42.30 L573.41,42.60 L573.85,42.90 L574.30,43.20 L574.74,43.51 L575.19,43.82 L575.63,44.14 L576.08,44.45 L576.52,44.78 L576.96,45.10 L577.41,45.43 L577.85,45.76 L578.30,46.10 L578.74,46.45 L579.18,46.79 L579.63,47.15 L580.07,47.50 L580.52,47.87 L580.96,48.24 L581.40,48.62 L581.85,49.01 L582.29,49.40 L582.74,49.81 L583.18,50.23 L583.63,50.66 L584.07,51.10 L584.51,51.56 L584.96,52.04 L585.40,52.55 L585.85,53.08 L586.29,53.64 L586.74,54.25 L587.18,54.91 L587.62,55.65 L588.07,56.50 L588.51,57.53 L588.96,58.96 L589.40,64.00" fill="none" stroke="#a2da37" stroke-width="3.4" stroke-linejoin="round"/>
<path d="M499.45,64.00 L500.23,56.92 L501.01,55.17 L501.80,53.89 L502.58,52.84 L503.36,51.91 L504.14,51.08 L504.92,50.30 L505.70,49.57 L506.49,48.88 L507.27,48.21 L508.05,47.57 L508.83,46.95 L509.61,46.35 L510.39,45.76 L511.18,45.18 L511.96,44.62 L512.74,44.07 L513.52,43.52 L514.30,42.99 L515.08,42.46 L515.87,41.94 L516.65,41.42 L517.43,40.92 L518.21,40.42 L518.99,39.92 L519.77,39.43 L520.55,38.94 L521.34,38.46 L522.12,37.99 L522.90,37.52 L523.68,37.05 L524.46,36.59 L525.25,36.13 L526.03,35.68 L526.81,35.23 L527.59,34.79 L528.37,34.35 L529.15,33.91 L529.93,33.48 L530.72,33.05 L531.50,32.63 L532.28,32.21 L533.06,31.80 L533.84,31.39 L534.62,30.98 L535.41,30.58 L536.19,30.18 L536.97,29.79 L537.75,29.40 L538.53,29.02 L539.32,28.64 L540.10,28.27 L540.88,27.90 L541.66,27.54 L542.44,27.18 L543.22,26.83 L544.00,26.48 L544.79,26.14 L545.57,25.81 L546.35,25.48 M549.15,25.48 L549.93,25.81 L550.71,26.14 L551.50,26.48 L552.28,26.83 L553.06,27.18 L553.84,27.54 L554.62,27.90 L555.40,28.27 L556.18,28.64 L556.97,29.02 L557.75,29.40 L558.53,29.79 L559.31,30.18 L560.09,30.58 L560.88,30.98 L561.66,31.39 L562.44,31.80 L563.22,32.21 L564.00,32.63 L564.78,33.05 L565.57,33.48 L566.35,33.91 L567.13,34.35 L567.91,34.79 L568.69,35.23 L569.47,35.68 L570.25,36.13 L571.04,36.59 L571.82,37.05 L572.60,37.52 L573.38,37.99 L574.16,38.46 L574.95,38.94 L575.73,39.43 L576.51,39.92 L577.29,40.42 L578.07,40.92 L578.85,41.42 L579.63,41.94 L580.42,42.46 L581.20,42.99 L581.98,43.52 L582.76,44.07 L583.54,44.62 L584.33,45.18 L585.11,45.76 L585.89,46.35 L586.67,46.95 L587.45,47.57 L588.23,48.21 L589.01,48.88 L589.80,49.57 L590.58,50.30 L591.36,51.08 L592.14,51.91 L592.92,52.84 L593.71,53.89 L594.49,55.17 L595.27,56.92 L596.05,64.00" fill="none" stroke="#fde725" stroke-width="3.5" stroke-linejoin="round"/>
<line x1="472.50" y1="18.80" x2="477.00" y2="18.80" stroke="#262626" stroke-width="1.3"/>
<line x1="472.50" y1="41.40" x2="477.00" y2="41.40" stroke="#262626" stroke-width="1.3"/>
<line x1="472.50" y1="64.00" x2="477.00" y2="64.00" stroke="#262626" stroke-width="1.3"/>
<line x1="476.85" y1="64.35" x2="476.85" y2="68.50" stroke="#262626" stroke-width="1.25"/>
<line x1="512.30" y1="64.90" x2="512.30" y2="68.50" stroke="#262626" stroke-width="1.25"/>
<line x1="547.75" y1="64.90" x2="547.75" y2="68.50" stroke="#262626" stroke-width="1.25"/>
<line x1="583.20" y1="64.90" x2="583.20" y2="68.50" stroke="#262626" stroke-width="1.25"/>
<line x1="618.65" y1="64.90" x2="618.65" y2="68.50" stroke="#262626" stroke-width="1.25"/>
<defs><linearGradient id="vg" x1="0" y1="1" x2="0" y2="0"><stop offset="0.0000" stop-color="#440154"/><stop offset="0.0312" stop-color="#470d60"/><stop offset="0.0625" stop-color="#48186a"/><stop offset="0.0938" stop-color="#482374"/><stop offset="0.1250" stop-color="#472d7b"/><stop offset="0.1562" stop-color="#453781"/><stop offset="0.1875" stop-color="#424086"/><stop offset="0.2188" stop-color="#3e4989"/><stop offset="0.2500" stop-color="#3b528b"/><stop offset="0.2812" stop-color="#375b8d"/><stop offset="0.3125" stop-color="#33638d"/><stop offset="0.3438" stop-color="#2f6b8e"/><stop offset="0.3750" stop-color="#2c728e"/><stop offset="0.4062" stop-color="#297a8e"/><stop offset="0.4375" stop-color="#26828e"/><stop offset="0.4688" stop-color="#23898e"/><stop offset="0.5000" stop-color="#21918c"/><stop offset="0.5312" stop-color="#1f988b"/><stop offset="0.5625" stop-color="#1fa088"/><stop offset="0.5938" stop-color="#22a785"/><stop offset="0.6250" stop-color="#28ae80"/><stop offset="0.6562" stop-color="#32b67a"/><stop offset="0.6875" stop-color="#3fbc73"/><stop offset="0.7188" stop-color="#4ec36b"/><stop offset="0.7500" stop-color="#5ec962"/><stop offset="0.7812" stop-color="#70cf57"/><stop offset="0.8125" stop-color="#84d44b"/><stop offset="0.8438" stop-color="#98d83e"/><stop offset="0.8750" stop-color="#addc30"/><stop offset="0.9062" stop-color="#c2df23"/><stop offset="0.9375" stop-color="#d8e219"/><stop offset="0.9688" stop-color="#ece51b"/><stop offset="1.0000" stop-color="#fde725"/></linearGradient></defs>
<rect x="648.3" y="2.0" width="5.0" height="87.7" fill="url(#vg)"/>
<line x1="653.30" y1="89.50" x2="657.30" y2="89.50" stroke="#262626" stroke-width="1.1"/>
<line x1="653.30" y1="60.77" x2="657.30" y2="60.77" stroke="#262626" stroke-width="1.1"/>
<line x1="653.30" y1="32.03" x2="657.30" y2="32.03" stroke="#262626" stroke-width="1.1"/>
<line x1="653.30" y1="3.30" x2="657.30" y2="3.30" stroke="#262626" stroke-width="1.1"/>
<line x1="44.35" y1="122.20" x2="44.35" y2="245.10" stroke="#454545" stroke-width="1.15"/>
<line x1="44.35" y1="244.60" x2="189.95" y2="244.60" stroke="#505050" stroke-width="1.0"/>
<line x1="39.75" y1="244.80" x2="44.35" y2="244.80" stroke="#262626" stroke-width="1.1"/>
<line x1="39.75" y1="224.30" x2="44.35" y2="224.30" stroke="#262626" stroke-width="1.1"/>
<line x1="39.75" y1="203.90" x2="44.35" y2="203.90" stroke="#262626" stroke-width="1.1"/>
<line x1="39.75" y1="183.40" x2="44.35" y2="183.40" stroke="#262626" stroke-width="1.1"/>
<line x1="39.75" y1="163.00" x2="44.35" y2="163.00" stroke="#262626" stroke-width="1.1"/>
<line x1="39.75" y1="142.60" x2="44.35" y2="142.60" stroke="#262626" stroke-width="1.1"/>
<line x1="39.75" y1="122.20" x2="44.35" y2="122.20" stroke="#262626" stroke-width="1.1"/>
<line x1="44.35" y1="244.60" x2="44.35" y2="248.70" stroke="#262626" stroke-width="1.1"/>
<line x1="67.35" y1="244.60" x2="67.35" y2="248.70" stroke="#262626" stroke-width="1.1"/>
<line x1="90.35" y1="244.60" x2="90.35" y2="248.70" stroke="#262626" stroke-width="1.1"/>
<line x1="113.35" y1="244.60" x2="113.35" y2="248.70" stroke="#262626" stroke-width="1.1"/>
<line x1="136.35" y1="244.60" x2="136.35" y2="248.70" stroke="#262626" stroke-width="1.1"/>
<line x1="159.35" y1="244.60" x2="159.35" y2="248.70" stroke="#262626" stroke-width="1.1"/>
<line x1="182.35" y1="244.60" x2="182.35" y2="248.70" stroke="#262626" stroke-width="1.1"/>
<line x1="262.65" y1="121.80" x2="262.65" y2="245.10" stroke="#454545" stroke-width="1.15"/>
<line x1="262.65" y1="244.60" x2="408.25" y2="244.60" stroke="#505050" stroke-width="1.0"/>
<line x1="258.05" y1="244.80" x2="262.65" y2="244.80" stroke="#262626" stroke-width="1.1"/>
<line x1="258.05" y1="228.40" x2="262.65" y2="228.40" stroke="#262626" stroke-width="1.1"/>
<line x1="258.05" y1="212.00" x2="262.65" y2="212.00" stroke="#262626" stroke-width="1.1"/>
<line x1="258.05" y1="195.60" x2="262.65" y2="195.60" stroke="#262626" stroke-width="1.1"/>
<line x1="258.05" y1="179.20" x2="262.65" y2="179.20" stroke="#262626" stroke-width="1.1"/>
<line x1="258.05" y1="162.80" x2="262.65" y2="162.80" stroke="#262626" stroke-width="1.1"/>
<line x1="258.05" y1="146.40" x2="262.65" y2="146.40" stroke="#262626" stroke-width="1.1"/>
<line x1="258.05" y1="130.00" x2="262.65" y2="130.00" stroke="#262626" stroke-width="1.1"/>
<line x1="262.65" y1="244.60" x2="262.65" y2="248.70" stroke="#262626" stroke-width="1.1"/>
<line x1="285.65" y1="244.60" x2="285.65" y2="248.70" stroke="#262626" stroke-width="1.1"/>
<line x1="308.65" y1="244.60" x2="308.65" y2="248.70" stroke="#262626" stroke-width="1.1"/>
<line x1="331.65" y1="244.60" x2="331.65" y2="248.70" stroke="#262626" stroke-width="1.1"/>
<line x1="354.65" y1="244.60" x2="354.65" y2="248.70" stroke="#262626" stroke-width="1.1"/>
<line x1="377.65" y1="244.60" x2="377.65" y2="248.70" stroke="#262626" stroke-width="1.1"/>
<line x1="400.65" y1="244.60" x2="400.65" y2="248.70" stroke="#262626" stroke-width="1.1"/>
<line x1="481.25" y1="122.10" x2="481.25" y2="245.10" stroke="#454545" stroke-width="1.15"/>
<line x1="481.25" y1="244.60" x2="626.85" y2="244.60" stroke="#505050" stroke-width="1.0"/>
<line x1="476.65" y1="239.40" x2="481.25" y2="239.40" stroke="#262626" stroke-width="1.1"/>
<line x1="476.65" y1="211.50" x2="481.25" y2="211.50" stroke="#262626" stroke-width="1.1"/>
<line x1="476.65" y1="183.60" x2="481.25" y2="183.60" stroke="#262626" stroke-width="1.1"/>
<line x1="476.65" y1="155.70" x2="481.25" y2="155.70" stroke="#262626" stroke-width="1.1"/>
<line x1="476.65" y1="127.80" x2="481.25" y2="127.80" stroke="#262626" stroke-width="1.1"/>
<line x1="481.25" y1="244.60" x2="481.25" y2="248.70" stroke="#262626" stroke-width="1.1"/>
<line x1="504.25" y1="244.60" x2="504.25" y2="248.70" stroke="#262626" stroke-width="1.1"/>
<line x1="527.25" y1="244.60" x2="527.25" y2="248.70" stroke="#262626" stroke-width="1.1"/>
<line x1="550.25" y1="244.60" x2="550.25" y2="248.70" stroke="#262626" stroke-width="1.1"/>
<line x1="573.25" y1="244.60" x2="573.25" y2="248.70" stroke="#262626" stroke-width="1.1"/>
<line x1="596.25" y1="244.60" x2="596.25" y2="248.70" stroke="#262626" stroke-width="1.1"/>
<line x1="619.25" y1="244.60" x2="619.25" y2="248.70" stroke="#262626" stroke-width="1.1"/>
<circle cx="67.50" cy="232.50" r="1.85" fill="none" stroke="#a5541c" stroke-width="1.45"/>
<path d="M67.50,235.50 L67.50,238.20 M67.50,235.50 L65.16,234.15 M67.50,235.50 L69.84,234.15 " fill="none" stroke="#a5541c" stroke-width="1.2"/>
<path d="M77.50,219.90 L78.18,221.57 L79.97,221.70 L78.59,222.86 L79.03,224.60 L77.50,223.65 L75.97,224.60 L76.41,222.86 L75.03,221.70 L76.82,221.57 Z" fill="none" stroke="#a5541c" stroke-width="1.25" stroke-linejoin="round"/>
<circle cx="85.50" cy="216.50" r="1.85" fill="none" stroke="#a5541c" stroke-width="1.45"/>
<circle cx="95.50" cy="208.50" r="2.2" fill="none" stroke="#a5541c" stroke-width="1.75"/>
<path d="M95.50,208.50 L95.50,211.20 M95.50,208.50 L93.16,207.15 M95.50,208.50 L97.84,207.15 " fill="none" stroke="#a5541c" stroke-width="1.2"/>
<path d="M104.50,196.90 L106.85,201.15 L102.15,201.15 Z" fill="none" stroke="#a5541c" stroke-width="1.3"/>
<path d="M104.50,198.90 L105.18,200.57 L106.97,200.70 L105.59,201.86 L106.03,203.60 L104.50,202.65 L102.97,203.60 L103.41,201.86 L102.03,200.70 L103.82,200.57 Z" fill="none" stroke="#a5541c" stroke-width="1.25" stroke-linejoin="round"/>
<circle cx="113.50" cy="192.50" r="1.85" fill="none" stroke="#a5541c" stroke-width="1.45"/>
<circle cx="126.50" cy="187.50" r="2.2" fill="none" stroke="#a5541c" stroke-width="1.75"/>
<path d="M126.50,184.50 L126.50,187.20 M126.50,184.50 L124.16,183.15 M126.50,184.50 L128.84,183.15 " fill="none" stroke="#a5541c" stroke-width="1.2"/>
<path d="M136.50,171.90 L138.85,176.15 L134.15,176.15 Z" fill="none" stroke="#a5541c" stroke-width="1.3"/>
<path d="M136.50,177.90 L137.18,179.57 L138.97,179.70 L137.59,180.86 L138.03,182.60 L136.50,181.65 L134.97,182.60 L135.41,180.86 L134.03,179.70 L135.82,179.57 Z" fill="none" stroke="#a5541c" stroke-width="1.25" stroke-linejoin="round"/>
<circle cx="146.50" cy="171.50" r="1.85" fill="none" stroke="#a5541c" stroke-width="1.45"/>
<path d="M160.50,162.50 L160.50,165.20 M160.50,162.50 L158.16,161.15 M160.50,162.50 L162.84,161.15 " fill="none" stroke="#a5541c" stroke-width="1.2"/>
<path d="M169.50,150.90 L171.85,155.15 L167.15,155.15 Z" fill="none" stroke="#a5541c" stroke-width="1.3"/>
<circle cx="178.50" cy="152.50" r="1.85" fill="none" stroke="#a5541c" stroke-width="1.45"/>
<path d="M68.65,232.01 L69.99,233.35 L68.84,234.50 L69.99,235.65 L68.65,236.99 L67.50,235.84 L66.35,236.99 L65.01,235.65 L66.16,234.50 L65.01,233.35 L66.35,232.01 L67.50,233.16 Z" fill="none" stroke="#1cc4cf" stroke-width="1.4"/>
<path d="M77.65,219.01 L78.99,220.35 L77.84,221.50 L78.99,222.65 L77.65,223.99 L76.50,222.84 L75.35,223.99 L74.01,222.65 L75.16,221.50 L74.01,220.35 L75.35,219.01 L76.50,220.16 Z" fill="none" stroke="#1cc4cf" stroke-width="1.4"/>
<rect x="83.55" y="213.55" width="3.9" height="3.9" fill="none" stroke="#1cc4cf" stroke-width="1.45"/>
<path d="M93.50,207.50 L93.50,204.80 M93.50,207.50 L91.16,208.85 M93.50,207.50 L95.84,208.85 " fill="none" stroke="#1cc4cf" stroke-width="1.2"/>
<path d="M94.50,208.10 L96.85,203.85 L92.15,203.85 Z" fill="none" stroke="#1cc4cf" stroke-width="1.3"/>
<path d="M102.50,198.10 L104.85,193.85 L100.15,193.85 Z" fill="none" stroke="#1cc4cf" stroke-width="1.3"/>
<path d="M102.50,196.00 L104.88,197.73 L103.97,200.52 L101.03,200.52 L100.12,197.73 Z" fill="none" stroke="#1cc4cf" stroke-width="1.3"/>
<rect x="110.55" y="191.55" width="3.9" height="3.9" fill="none" stroke="#1cc4cf" stroke-width="1.45"/>
<path d="M126.65,178.01 L127.99,179.35 L126.84,180.50 L127.99,181.65 L126.65,182.99 L125.50,181.84 L124.35,182.99 L123.01,181.65 L124.16,180.50 L123.01,179.35 L124.35,178.01 L125.50,179.16 Z" fill="none" stroke="#1cc4cf" stroke-width="1.4"/>
<path d="M135.50,173.10 L137.85,168.85 L133.15,168.85 Z" fill="none" stroke="#1cc4cf" stroke-width="1.3"/>
<path d="M135.50,170.00 L137.88,171.73 L136.97,174.52 L134.03,174.52 L133.12,171.73 Z" fill="none" stroke="#1cc4cf" stroke-width="1.3"/>
<rect x="143.55" y="165.55" width="3.9" height="3.9" fill="none" stroke="#1cc4cf" stroke-width="1.45"/>
<path d="M160.65,153.01 L161.99,154.35 L160.84,155.50 L161.99,156.65 L160.65,157.99 L159.50,156.84 L158.35,157.99 L157.01,156.65 L158.16,155.50 L157.01,154.35 L158.35,153.01 L159.50,154.16 Z" fill="none" stroke="#1cc4cf" stroke-width="1.4"/>
<path d="M168.50,148.10 L170.85,143.85 L166.15,143.85 Z" fill="none" stroke="#1cc4cf" stroke-width="1.3"/>
<rect x="175.55" y="143.55" width="3.9" height="3.9" fill="none" stroke="#1cc4cf" stroke-width="1.45"/>
<path d="M72.60,225.05 L74.40,225.05 L74.40,226.60 L75.95,226.60 L75.95,228.40 L74.40,228.40 L74.40,229.95 L72.60,229.95 L72.60,228.40 L71.05,228.40 L71.05,226.60 L72.60,226.60 Z" fill="none" stroke="#000000" stroke-width="1.4"/>
<path d="M93.60,201.05 L95.40,201.05 L95.40,202.60 L96.95,202.60 L96.95,204.40 L95.40,204.40 L95.40,205.95 L93.60,205.95 L93.60,204.40 L92.05,204.40 L92.05,202.60 L93.60,202.60 Z" fill="none" stroke="#000000" stroke-width="1.4"/>
<path d="M123.60,175.05 L125.40,175.05 L125.40,176.60 L126.95,176.60 L126.95,178.40 L125.40,178.40 L125.40,179.95 L123.60,179.95 L123.60,178.40 L122.05,178.40 L122.05,176.60 L123.60,176.60 Z" fill="none" stroke="#000000" stroke-width="1.4"/>
<path d="M147.60,156.05 L149.40,156.05 L149.40,157.60 L150.95,157.60 L150.95,159.40 L149.40,159.40 L149.40,160.95 L147.60,160.95 L147.60,159.40 L146.05,159.40 L146.05,157.60 L147.60,157.60 Z" fill="none" stroke="#000000" stroke-width="1.4"/>
<path d="M183.60,130.05 L185.40,130.05 L185.40,131.60 L186.95,131.60 L186.95,133.40 L185.40,133.40 L185.40,134.95 L183.60,134.95 L183.60,133.40 L182.05,133.40 L182.05,131.60 L183.60,131.60 Z" fill="none" stroke="#000000" stroke-width="1.4"/>
<path d="M78.50,222.50 L75.80,222.50 M78.50,222.50 L79.85,220.16 M78.50,222.50 L79.85,224.84 " fill="none" stroke="#000000" stroke-width="1.2"/>
<path d="M99.50,201.50 L96.80,201.50 M99.50,201.50 L100.85,199.16 M99.50,201.50 L100.85,203.84 " fill="none" stroke="#000000" stroke-width="1.2"/>
<path d="M130.50,175.50 L127.80,175.50 M130.50,175.50 L131.85,173.16 M130.50,175.50 L131.85,177.84 " fill="none" stroke="#000000" stroke-width="1.2"/>
<path d="M154.50,156.50 L151.80,156.50 M154.50,156.50 L155.85,154.16 M154.50,156.50 L155.85,158.84 " fill="none" stroke="#000000" stroke-width="1.2"/>
<path d="M82.50,214.15 L87.00,216.50 L82.50,218.85 Z" fill="none" stroke="#000000" stroke-width="1.3"/>
<path d="M103.50,193.15 L108.00,195.50 L103.50,197.85 Z" fill="none" stroke="#000000" stroke-width="1.3"/>
<path d="M134.50,165.15 L139.00,167.50 L134.50,169.85 Z" fill="none" stroke="#000000" stroke-width="1.3"/>
<path d="M158.50,145.15 L163.00,147.50 L158.50,149.85 Z" fill="none" stroke="#000000" stroke-width="1.3"/>
<path d="M90.50,208.75 L93.25,211.50 L90.50,214.25 L87.75,211.50 Z" fill="none" stroke="#000000" stroke-width="1.3" stroke-linejoin="miter"/>
<path d="M112.50,185.75 L115.25,188.50 L112.50,191.25 L109.75,188.50 Z" fill="none" stroke="#000000" stroke-width="1.3" stroke-linejoin="miter"/>
<path d="M112.50,188.75 L115.25,191.50 L112.50,194.25 L109.75,191.50 Z" fill="none" stroke="#000000" stroke-width="1.3" stroke-linejoin="miter"/>
<path d="M143.50,162.75 L146.25,165.50 L143.50,168.25 L140.75,165.50 Z" fill="none" stroke="#000000" stroke-width="1.3" stroke-linejoin="miter"/>
<path d="M167.50,145.75 L170.25,148.50 L167.50,151.25 L164.75,148.50 Z" fill="none" stroke="#000000" stroke-width="1.3" stroke-linejoin="miter"/>
<circle cx="286.50" cy="222.50" r="1.85" fill="none" stroke="#a5541c" stroke-width="1.45"/>
<path d="M285.50,225.50 L285.50,228.20 M285.50,225.50 L283.16,224.15 M285.50,225.50 L287.84,224.15 " fill="none" stroke="#a5541c" stroke-width="1.2"/>
<path d="M296.50,207.90 L297.18,209.57 L298.97,209.70 L297.59,210.86 L298.03,212.60 L296.50,211.65 L294.97,212.60 L295.41,210.86 L294.03,209.70 L295.82,209.57 Z" fill="none" stroke="#a5541c" stroke-width="1.25" stroke-linejoin="round"/>
<circle cx="304.50" cy="205.50" r="1.85" fill="none" stroke="#a5541c" stroke-width="1.45"/>
<circle cx="313.50" cy="199.50" r="2.2" fill="none" stroke="#a5541c" stroke-width="1.75"/>
<path d="M313.50,199.50 L313.50,202.20 M313.50,199.50 L311.16,198.15 M313.50,199.50 L315.84,198.15 " fill="none" stroke="#a5541c" stroke-width="1.2"/>
<path d="M322.50,188.90 L324.85,193.15 L320.15,193.15 Z" fill="none" stroke="#a5541c" stroke-width="1.3"/>
<path d="M322.50,195.90 L323.18,197.57 L324.97,197.70 L323.59,198.86 L324.03,200.60 L322.50,199.65 L320.97,200.60 L321.41,198.86 L320.03,197.70 L321.82,197.57 Z" fill="none" stroke="#a5541c" stroke-width="1.25" stroke-linejoin="round"/>
<circle cx="331.50" cy="187.50" r="1.85" fill="none" stroke="#a5541c" stroke-width="1.45"/>
<circle cx="346.50" cy="189.50" r="2.2" fill="none" stroke="#a5541c" stroke-width="1.75"/>
<path d="M345.50,185.50 L345.50,188.20 M345.50,185.50 L343.16,184.15 M345.50,185.50 L347.84,184.15 " fill="none" stroke="#a5541c" stroke-width="1.2"/>
<path d="M355.50,180.90 L357.85,185.15 L353.15,185.15 Z" fill="none" stroke="#a5541c" stroke-width="1.3"/>
<path d="M355.50,188.90 L356.18,190.57 L357.97,190.70 L356.59,191.86 L357.03,193.60 L355.50,192.65 L353.97,193.60 L354.41,191.86 L353.03,190.70 L354.82,190.57 Z" fill="none" stroke="#a5541c" stroke-width="1.25" stroke-linejoin="round"/>
<circle cx="364.50" cy="183.50" r="1.85" fill="none" stroke="#a5541c" stroke-width="1.45"/>
<path d="M379.50,175.50 L379.50,178.20 M379.50,175.50 L377.16,174.15 M379.50,175.50 L381.84,174.15 " fill="none" stroke="#a5541c" stroke-width="1.2"/>
<path d="M388.50,179.90 L390.85,184.15 L386.15,184.15 Z" fill="none" stroke="#a5541c" stroke-width="1.3"/>
<circle cx="397.50" cy="184.50" r="1.85" fill="none" stroke="#a5541c" stroke-width="1.45"/>
<path d="M287.65,221.01 L288.99,222.35 L287.84,223.50 L288.99,224.65 L287.65,225.99 L286.50,224.84 L285.35,225.99 L284.01,224.65 L285.16,223.50 L284.01,222.35 L285.35,221.01 L286.50,222.16 Z" fill="none" stroke="#1cc4cf" stroke-width="1.4"/>
<path d="M294.50,205.10 L296.85,200.85 L292.15,200.85 Z" fill="none" stroke="#1cc4cf" stroke-width="1.3"/>
<path d="M294.50,202.00 L296.88,203.73 L295.97,206.52 L293.03,206.52 L292.12,203.73 Z" fill="none" stroke="#1cc4cf" stroke-width="1.3"/>
<rect x="302.55" y="185.55" width="3.9" height="3.9" fill="none" stroke="#1cc4cf" stroke-width="1.45"/>
<path d="M311.50,183.50 L311.50,180.80 M311.50,183.50 L309.16,184.85 M311.50,183.50 L313.84,184.85 " fill="none" stroke="#1cc4cf" stroke-width="1.2"/>
<path d="M313.50,179.10 L315.85,174.85 L311.15,174.85 Z" fill="none" stroke="#1cc4cf" stroke-width="1.3"/>
<path d="M321.50,175.10 L323.85,170.85 L319.15,170.85 Z" fill="none" stroke="#1cc4cf" stroke-width="1.3"/>
<path d="M321.50,175.00 L323.88,176.73 L322.97,179.52 L320.03,179.52 L319.12,176.73 Z" fill="none" stroke="#1cc4cf" stroke-width="1.3"/>
<rect x="329.55" y="164.55" width="3.9" height="3.9" fill="none" stroke="#1cc4cf" stroke-width="1.45"/>
<path d="M345.65,163.01 L346.99,164.35 L345.84,165.50 L346.99,166.65 L345.65,167.99 L344.50,166.84 L343.35,167.99 L342.01,166.65 L343.16,165.50 L342.01,164.35 L343.35,163.01 L344.50,164.16 Z" fill="none" stroke="#1cc4cf" stroke-width="1.4"/>
<path d="M354.50,166.10 L356.85,161.85 L352.15,161.85 Z" fill="none" stroke="#1cc4cf" stroke-width="1.3"/>
<path d="M354.50,165.00 L356.88,166.73 L355.97,169.52 L353.03,169.52 L352.12,166.73 Z" fill="none" stroke="#1cc4cf" stroke-width="1.3"/>
<rect x="362.55" y="157.55" width="3.9" height="3.9" fill="none" stroke="#1cc4cf" stroke-width="1.45"/>
<path d="M379.65,154.01 L380.99,155.35 L379.84,156.50 L380.99,157.65 L379.65,158.99 L378.50,157.84 L377.35,158.99 L376.01,157.65 L377.16,156.50 L376.01,155.35 L377.35,154.01 L378.50,155.16 Z" fill="none" stroke="#1cc4cf" stroke-width="1.4"/>
<path d="M387.50,166.10 L389.85,161.85 L385.15,161.85 Z" fill="none" stroke="#1cc4cf" stroke-width="1.3"/>
<rect x="394.55" y="157.55" width="3.9" height="3.9" fill="none" stroke="#1cc4cf" stroke-width="1.45"/>
<path d="M290.60,210.05 L292.40,210.05 L292.40,211.60 L293.95,211.60 L293.95,213.40 L292.40,213.40 L292.40,214.95 L290.60,214.95 L290.60,213.40 L289.05,213.40 L289.05,211.60 L290.60,211.60 Z" fill="none" stroke="#000000" stroke-width="1.4"/>
<path d="M312.60,172.05 L314.40,172.05 L314.40,173.60 L315.95,173.60 L315.95,175.40 L314.40,175.40 L314.40,176.95 L312.60,176.95 L312.60,175.40 L311.05,175.40 L311.05,173.60 L312.60,173.60 Z" fill="none" stroke="#000000" stroke-width="1.4"/>
<path d="M342.60,153.05 L344.40,153.05 L344.40,154.60 L345.95,154.60 L345.95,156.40 L344.40,156.40 L344.40,157.95 L342.60,157.95 L342.60,156.40 L341.05,156.40 L341.05,154.60 L342.60,154.60 Z" fill="none" stroke="#000000" stroke-width="1.4"/>
<path d="M366.60,140.05 L368.40,140.05 L368.40,141.60 L369.95,141.60 L369.95,143.40 L368.40,143.40 L368.40,144.95 L366.60,144.95 L366.60,143.40 L365.05,143.40 L365.05,141.60 L366.60,141.60 Z" fill="none" stroke="#000000" stroke-width="1.4"/>
<path d="M401.60,127.05 L403.40,127.05 L403.40,128.60 L404.95,128.60 L404.95,130.40 L403.40,130.40 L403.40,131.95 L401.60,131.95 L401.60,130.40 L400.05,130.40 L400.05,128.60 L401.60,128.60 Z" fill="none" stroke="#000000" stroke-width="1.4"/>
<path d="M297.50,200.50 L294.80,200.50 M297.50,200.50 L298.85,198.16 M297.50,200.50 L298.85,202.84 " fill="none" stroke="#000000" stroke-width="1.2"/>
<path d="M318.50,168.50 L315.80,168.50 M318.50,168.50 L319.85,166.16 M318.50,168.50 L319.85,170.84 " fill="none" stroke="#000000" stroke-width="1.2"/>
<path d="M348.50,154.50 L345.80,154.50 M348.50,154.50 L349.85,152.16 M348.50,154.50 L349.85,156.84 " fill="none" stroke="#000000" stroke-width="1.2"/>
<path d="M372.50,144.50 L369.80,144.50 M372.50,144.50 L373.85,142.16 M372.50,144.50 L373.85,146.84 " fill="none" stroke="#000000" stroke-width="1.2"/>
<path d="M301.50,183.15 L306.00,185.50 L301.50,187.85 Z" fill="none" stroke="#000000" stroke-width="1.3"/>
<path d="M322.50,154.15 L327.00,156.50 L322.50,158.85 Z" fill="none" stroke="#000000" stroke-width="1.3"/>
<path d="M353.50,147.15 L358.00,149.50 L353.50,151.85 Z" fill="none" stroke="#000000" stroke-width="1.3"/>
<path d="M377.50,138.15 L382.00,140.50 L377.50,142.85 Z" fill="none" stroke="#000000" stroke-width="1.3"/>
<path d="M309.50,175.75 L312.25,178.50 L309.50,181.25 L306.75,178.50 Z" fill="none" stroke="#000000" stroke-width="1.3" stroke-linejoin="miter"/>
<path d="M331.50,149.75 L334.25,152.50 L331.50,155.25 L328.75,152.50 Z" fill="none" stroke="#000000" stroke-width="1.3" stroke-linejoin="miter"/>
<path d="M331.50,155.75 L334.25,158.50 L331.50,161.25 L328.75,158.50 Z" fill="none" stroke="#000000" stroke-width="1.3" stroke-linejoin="miter"/>
<path d="M361.50,135.75 L364.25,138.50 L361.50,141.25 L358.75,138.50 Z" fill="none" stroke="#000000" stroke-width="1.3" stroke-linejoin="miter"/>
<path d="M385.50,126.75 L388.25,129.50 L385.50,132.25 L382.75,129.50 Z" fill="none" stroke="#000000" stroke-width="1.3" stroke-linejoin="miter"/>
<circle cx="504.50" cy="237.50" r="1.85" fill="none" stroke="#a5541c" stroke-width="1.45"/>
<path d="M504.50,239.50 L504.50,242.20 M504.50,239.50 L502.16,238.15 M504.50,239.50 L506.84,238.15 " fill="none" stroke="#a5541c" stroke-width="1.2"/>
<path d="M514.50,234.90 L515.18,236.57 L516.97,236.70 L515.59,237.86 L516.03,239.60 L514.50,238.65 L512.97,239.60 L513.41,237.86 L512.03,236.70 L513.82,236.57 Z" fill="none" stroke="#a5541c" stroke-width="1.25" stroke-linejoin="round"/>
<circle cx="523.50" cy="238.50" r="1.85" fill="none" stroke="#a5541c" stroke-width="1.45"/>
<circle cx="532.50" cy="236.50" r="2.2" fill="none" stroke="#a5541c" stroke-width="1.75"/>
<path d="M532.50,236.50 L532.50,239.20 M532.50,236.50 L530.16,235.15 M532.50,236.50 L534.84,235.15 " fill="none" stroke="#a5541c" stroke-width="1.2"/>
<path d="M541.50,228.90 L543.85,233.15 L539.15,233.15 Z" fill="none" stroke="#a5541c" stroke-width="1.3"/>
<path d="M541.50,229.90 L542.18,231.57 L543.97,231.70 L542.59,232.86 L543.03,234.60 L541.50,233.65 L539.97,234.60 L540.41,232.86 L539.03,231.70 L540.82,231.57 Z" fill="none" stroke="#a5541c" stroke-width="1.25" stroke-linejoin="round"/>
<circle cx="550.50" cy="228.50" r="1.85" fill="none" stroke="#a5541c" stroke-width="1.45"/>
<circle cx="564.50" cy="227.50" r="2.2" fill="none" stroke="#a5541c" stroke-width="1.75"/>
<path d="M564.50,223.50 L564.50,226.20 M564.50,223.50 L562.16,222.15 M564.50,223.50 L566.84,222.15 " fill="none" stroke="#a5541c" stroke-width="1.2"/>
<path d="M573.50,212.90 L575.85,217.15 L571.15,217.15 Z" fill="none" stroke="#a5541c" stroke-width="1.3"/>
<path d="M574.50,220.90 L575.18,222.57 L576.97,222.70 L575.59,223.86 L576.03,225.60 L574.50,224.65 L572.97,225.60 L573.41,223.86 L572.03,222.70 L573.82,222.57 Z" fill="none" stroke="#a5541c" stroke-width="1.25" stroke-linejoin="round"/>
<circle cx="582.50" cy="214.50" r="1.85" fill="none" stroke="#a5541c" stroke-width="1.45"/>
<path d="M597.50,203.50 L597.50,206.20 M597.50,203.50 L595.16,202.15 M597.50,203.50 L599.84,202.15 " fill="none" stroke="#a5541c" stroke-width="1.2"/>
<path d="M606.50,198.90 L608.85,203.15 L604.15,203.15 Z" fill="none" stroke="#a5541c" stroke-width="1.3"/>
<circle cx="616.50" cy="206.50" r="1.85" fill="none" stroke="#a5541c" stroke-width="1.45"/>
<path d="M505.65,236.01 L506.99,237.35 L505.84,238.50 L506.99,239.65 L505.65,240.99 L504.50,239.84 L503.35,240.99 L502.01,239.65 L503.16,238.50 L502.01,237.35 L503.35,236.01 L504.50,237.16 Z" fill="none" stroke="#1cc4cf" stroke-width="1.4"/>
<path d="M515.65,234.01 L516.99,235.35 L515.84,236.50 L516.99,237.65 L515.65,238.99 L514.50,237.84 L513.35,238.99 L512.01,237.65 L513.16,236.50 L512.01,235.35 L513.35,234.01 L514.50,235.16 Z" fill="none" stroke="#1cc4cf" stroke-width="1.4"/>
<rect x="520.55" y="233.55" width="3.9" height="3.9" fill="none" stroke="#1cc4cf" stroke-width="1.45"/>
<path d="M530.50,230.50 L530.50,227.80 M530.50,230.50 L528.16,231.85 M530.50,230.50 L532.84,231.85 " fill="none" stroke="#1cc4cf" stroke-width="1.2"/>
<path d="M531.50,232.10 L533.85,227.85 L529.15,227.85 Z" fill="none" stroke="#1cc4cf" stroke-width="1.3"/>
<path d="M540.50,230.10 L542.85,225.85 L538.15,225.85 Z" fill="none" stroke="#1cc4cf" stroke-width="1.3"/>
<path d="M540.50,226.00 L542.88,227.73 L541.97,230.52 L539.03,230.52 L538.12,227.73 Z" fill="none" stroke="#1cc4cf" stroke-width="1.3"/>
<rect x="548.55" y="222.55" width="3.9" height="3.9" fill="none" stroke="#1cc4cf" stroke-width="1.45"/>
<path d="M564.65,211.01 L565.99,212.35 L564.84,213.50 L565.99,214.65 L564.65,215.99 L563.50,214.84 L562.35,215.99 L561.01,214.65 L562.16,213.50 L561.01,212.35 L562.35,211.01 L563.50,212.16 Z" fill="none" stroke="#1cc4cf" stroke-width="1.4"/>
<path d="M573.50,211.10 L575.85,206.85 L571.15,206.85 Z" fill="none" stroke="#1cc4cf" stroke-width="1.3"/>
<path d="M573.50,202.00 L575.88,203.73 L574.97,206.52 L572.03,206.52 L571.12,203.73 Z" fill="none" stroke="#1cc4cf" stroke-width="1.3"/>
<rect x="580.55" y="198.55" width="3.9" height="3.9" fill="none" stroke="#1cc4cf" stroke-width="1.45"/>
<path d="M598.65,180.01 L599.99,181.35 L598.84,182.50 L599.99,183.65 L598.65,184.99 L597.50,183.84 L596.35,184.99 L595.01,183.65 L596.16,182.50 L595.01,181.35 L596.35,180.01 L597.50,181.16 Z" fill="none" stroke="#1cc4cf" stroke-width="1.4"/>
<path d="M606.50,185.10 L608.85,180.85 L604.15,180.85 Z" fill="none" stroke="#1cc4cf" stroke-width="1.3"/>
<rect x="613.55" y="174.55" width="3.9" height="3.9" fill="none" stroke="#1cc4cf" stroke-width="1.45"/>
<path d="M510.60,236.05 L512.40,236.05 L512.40,237.60 L513.95,237.60 L513.95,239.40 L512.40,239.40 L512.40,240.95 L510.60,240.95 L510.60,239.40 L509.05,239.40 L509.05,237.60 L510.60,237.60 Z" fill="none" stroke="#000000" stroke-width="1.4"/>
<path d="M530.60,229.05 L532.40,229.05 L532.40,230.60 L533.95,230.60 L533.95,232.40 L532.40,232.40 L532.40,233.95 L530.60,233.95 L530.60,232.40 L529.05,232.40 L529.05,230.60 L530.60,230.60 Z" fill="none" stroke="#000000" stroke-width="1.4"/>
<path d="M561.60,206.05 L563.40,206.05 L563.40,207.60 L564.95,207.60 L564.95,209.40 L563.40,209.40 L563.40,210.95 L561.60,210.95 L561.60,209.40 L560.05,209.40 L560.05,207.60 L561.60,207.60 Z" fill="none" stroke="#000000" stroke-width="1.4"/>
<path d="M585.60,182.05 L587.40,182.05 L587.40,183.60 L588.95,183.60 L588.95,185.40 L587.40,185.40 L587.40,186.95 L585.60,186.95 L585.60,185.40 L584.05,185.40 L584.05,183.60 L585.60,183.60 Z" fill="none" stroke="#000000" stroke-width="1.4"/>
<path d="M620.60,125.05 L622.40,125.05 L622.40,126.60 L623.95,126.60 L623.95,128.40 L622.40,128.40 L622.40,129.95 L620.60,129.95 L620.60,128.40 L619.05,128.40 L619.05,126.60 L620.60,126.60 Z" fill="none" stroke="#000000" stroke-width="1.4"/>
<path d="M516.50,238.50 L513.80,238.50 M516.50,238.50 L517.85,236.16 M516.50,238.50 L517.85,240.84 " fill="none" stroke="#000000" stroke-width="1.2"/>
<path d="M536.50,228.50 L533.80,228.50 M536.50,228.50 L537.85,226.16 M536.50,228.50 L537.85,230.84 " fill="none" stroke="#000000" stroke-width="1.2"/>
<path d="M567.50,204.50 L564.80,204.50 M567.50,204.50 L568.85,202.16 M567.50,204.50 L568.85,206.84 " fill="none" stroke="#000000" stroke-width="1.2"/>
<path d="M591.50,182.50 L588.80,182.50 M591.50,182.50 L592.85,180.16 M591.50,182.50 L592.85,184.84 " fill="none" stroke="#000000" stroke-width="1.2"/>
<path d="M519.50,234.15 L524.00,236.50 L519.50,238.85 Z" fill="none" stroke="#000000" stroke-width="1.3"/>
<path d="M541.50,221.15 L546.00,223.50 L541.50,225.85 Z" fill="none" stroke="#000000" stroke-width="1.3"/>
<path d="M571.50,193.15 L576.00,195.50 L571.50,197.85 Z" fill="none" stroke="#000000" stroke-width="1.3"/>
<path d="M595.50,154.15 L600.00,156.50 L595.50,158.85 Z" fill="none" stroke="#000000" stroke-width="1.3"/>
<path d="M595.50,154.15 L600.00,156.50 L595.50,158.85 Z" fill="none" stroke="#000000" stroke-width="1.3"/>
<path d="M527.50,231.75 L530.25,234.50 L527.50,237.25 L524.75,234.50 Z" fill="none" stroke="#000000" stroke-width="1.3" stroke-linejoin="miter"/>
<path d="M550.50,217.75 L553.25,220.50 L550.50,223.25 L547.75,220.50 Z" fill="none" stroke="#000000" stroke-width="1.3" stroke-linejoin="miter"/>
<path d="M550.50,217.75 L553.25,220.50 L550.50,223.25 L547.75,220.50 Z" fill="none" stroke="#000000" stroke-width="1.3" stroke-linejoin="miter"/>
<path d="M580.50,188.75 L583.25,191.50 L580.50,194.25 L577.75,191.50 Z" fill="none" stroke="#000000" stroke-width="1.3" stroke-linejoin="miter"/>
<path d="M604.50,153.75 L607.25,156.50 L604.50,159.25 L601.75,156.50 Z" fill="none" stroke="#000000" stroke-width="1.3" stroke-linejoin="miter"/><g style="opacity:0.995"><text x="116.65" y="8.70" font-size="9.3" text-anchor="middle" font-weight="normal" fill="#3a3a3a" stroke="#3a3a3a" stroke-width="0.05" textLength="61.3" lengthAdjust="spacingAndGlyphs">10 mM glucose</text>
<text x="34.30" y="21.75" font-size="8.2" text-anchor="end" font-weight="normal" fill="#111111" stroke="#111111" stroke-width="0.25" textLength="13.5" lengthAdjust="spacingAndGlyphs">400</text>
<text x="34.30" y="44.35" font-size="8.2" text-anchor="end" font-weight="normal" fill="#111111" stroke="#111111" stroke-width="0.25" textLength="13.5" lengthAdjust="spacingAndGlyphs">200</text>
<text x="34.30" y="66.95" font-size="8.2" text-anchor="end" font-weight="normal" fill="#111111" stroke="#111111" stroke-width="0.25" textLength="4.5" lengthAdjust="spacingAndGlyphs">0</text>
<text x="42.75" y="79.75" font-size="8.2" text-anchor="middle" font-weight="normal" fill="#111111" stroke="#111111" stroke-width="0.25" textLength="21.7" lengthAdjust="spacingAndGlyphs">−4000</text>
<text x="78.20" y="79.75" font-size="8.2" text-anchor="middle" font-weight="normal" fill="#111111" stroke="#111111" stroke-width="0.25" textLength="21.7" lengthAdjust="spacingAndGlyphs">−2000</text>
<text x="113.75" y="79.75" font-size="8.2" text-anchor="middle" font-weight="normal" fill="#111111" stroke="#111111" stroke-width="0.25" textLength="4.5" lengthAdjust="spacingAndGlyphs">0</text>
<text x="149.20" y="79.75" font-size="8.2" text-anchor="middle" font-weight="normal" fill="#111111" stroke="#111111" stroke-width="0.25" textLength="18.0" lengthAdjust="spacingAndGlyphs">2000</text>
<text x="184.65" y="79.75" font-size="8.2" text-anchor="middle" font-weight="normal" fill="#111111" stroke="#111111" stroke-width="0.25" textLength="18.0" lengthAdjust="spacingAndGlyphs">4000</text>
<text x="113.65" y="92.80" font-size="9.4" text-anchor="middle" font-weight="normal" fill="#111111" stroke="#111111" stroke-width="0.25" textLength="29.6" lengthAdjust="spacingAndGlyphs">x (<tspan font-style="italic">µm</tspan>)</text>
<text x="13.30" y="41.65" font-size="9.4" text-anchor="middle" font-weight="normal" fill="#111111" stroke="#111111" stroke-width="0.25" transform="rotate(-90 13.3 41.65)" textLength="27.3" lengthAdjust="spacingAndGlyphs">z (<tspan font-style="italic">µm</tspan>)</text>
<text x="338.40" y="8.70" font-size="9.3" text-anchor="middle" font-weight="normal" fill="#3a3a3a" stroke="#3a3a3a" stroke-width="0.05" textLength="61.3" lengthAdjust="spacingAndGlyphs">20 mM glucose</text>
<text x="256.50" y="21.75" font-size="8.2" text-anchor="end" font-weight="normal" fill="#111111" stroke="#111111" stroke-width="0.25" textLength="13.5" lengthAdjust="spacingAndGlyphs">400</text>
<text x="256.50" y="44.35" font-size="8.2" text-anchor="end" font-weight="normal" fill="#111111" stroke="#111111" stroke-width="0.25" textLength="13.5" lengthAdjust="spacingAndGlyphs">200</text>
<text x="256.50" y="66.95" font-size="8.2" text-anchor="end" font-weight="normal" fill="#111111" stroke="#111111" stroke-width="0.25" textLength="4.5" lengthAdjust="spacingAndGlyphs">0</text>
<text x="264.95" y="79.75" font-size="8.2" text-anchor="middle" font-weight="normal" fill="#111111" stroke="#111111" stroke-width="0.25" textLength="21.7" lengthAdjust="spacingAndGlyphs">−4000</text>
<text x="300.40" y="79.75" font-size="8.2" text-anchor="middle" font-weight="normal" fill="#111111" stroke="#111111" stroke-width="0.25" textLength="21.7" lengthAdjust="spacingAndGlyphs">−2000</text>
<text x="335.95" y="79.75" font-size="8.2" text-anchor="middle" font-weight="normal" fill="#111111" stroke="#111111" stroke-width="0.25" textLength="4.5" lengthAdjust="spacingAndGlyphs">0</text>
<text x="371.40" y="79.75" font-size="8.2" text-anchor="middle" font-weight="normal" fill="#111111" stroke="#111111" stroke-width="0.25" textLength="18.0" lengthAdjust="spacingAndGlyphs">2000</text>
<text x="406.85" y="79.75" font-size="8.2" text-anchor="middle" font-weight="normal" fill="#111111" stroke="#111111" stroke-width="0.25" textLength="18.0" lengthAdjust="spacingAndGlyphs">4000</text>
<text x="335.85" y="92.80" font-size="9.4" text-anchor="middle" font-weight="normal" fill="#111111" stroke="#111111" stroke-width="0.25" textLength="29.6" lengthAdjust="spacingAndGlyphs">x (<tspan font-style="italic">µm</tspan>)</text>
<text x="235.50" y="41.65" font-size="9.4" text-anchor="middle" font-weight="normal" fill="#111111" stroke="#111111" stroke-width="0.25" transform="rotate(-90 235.5 41.65)" textLength="27.3" lengthAdjust="spacingAndGlyphs">z (<tspan font-style="italic">µm</tspan>)</text>
<text x="549.30" y="8.70" font-size="9.3" text-anchor="middle" font-weight="normal" fill="#3a3a3a" stroke="#3a3a3a" stroke-width="0.05" textLength="61.3" lengthAdjust="spacingAndGlyphs">30 mM glucose</text>
<text x="468.30" y="21.75" font-size="8.2" text-anchor="end" font-weight="normal" fill="#111111" stroke="#111111" stroke-width="0.25" textLength="13.5" lengthAdjust="spacingAndGlyphs">400</text>
<text x="468.30" y="44.35" font-size="8.2" text-anchor="end" font-weight="normal" fill="#111111" stroke="#111111" stroke-width="0.25" textLength="13.5" lengthAdjust="spacingAndGlyphs">200</text>
<text x="468.30" y="66.95" font-size="8.2" text-anchor="end" font-weight="normal" fill="#111111" stroke="#111111" stroke-width="0.25" textLength="4.5" lengthAdjust="spacingAndGlyphs">0</text>
<text x="476.75" y="79.75" font-size="8.2" text-anchor="middle" font-weight="normal" fill="#111111" stroke="#111111" stroke-width="0.25" textLength="21.7" lengthAdjust="spacingAndGlyphs">−4000</text>
<text x="512.20" y="79.75" font-size="8.2" text-anchor="middle" font-weight="normal" fill="#111111" stroke="#111111" stroke-width="0.25" textLength="21.7" lengthAdjust="spacingAndGlyphs">−2000</text>
<text x="547.75" y="79.75" font-size="8.2" text-anchor="middle" font-weight="normal" fill="#111111" stroke="#111111" stroke-width="0.25" textLength="4.5" lengthAdjust="spacingAndGlyphs">0</text>
<text x="583.20" y="79.75" font-size="8.2" text-anchor="middle" font-weight="normal" fill="#111111" stroke="#111111" stroke-width="0.25" textLength="18.0" lengthAdjust="spacingAndGlyphs">2000</text>
<text x="618.65" y="79.75" font-size="8.2" text-anchor="middle" font-weight="normal" fill="#111111" stroke="#111111" stroke-width="0.25" textLength="18.0" lengthAdjust="spacingAndGlyphs">4000</text>
<text x="547.65" y="92.80" font-size="9.4" text-anchor="middle" font-weight="normal" fill="#111111" stroke="#111111" stroke-width="0.25" textLength="29.6" lengthAdjust="spacingAndGlyphs">x (<tspan font-style="italic">µm</tspan>)</text>
<text x="447.30" y="41.65" font-size="9.4" text-anchor="middle" font-weight="normal" fill="#111111" stroke="#111111" stroke-width="0.25" transform="rotate(-90 447.3 41.65)" textLength="27.3" lengthAdjust="spacingAndGlyphs">z (<tspan font-style="italic">µm</tspan>)</text>
<text x="0.30" y="9.40" font-size="14" text-anchor="start" font-weight="bold" fill="#000" stroke="#000" stroke-width="0">a</text>
<text x="220.30" y="10.00" font-size="14" text-anchor="start" font-weight="bold" fill="#000" stroke="#000" stroke-width="0">b</text>
<text x="449.40" y="9.10" font-size="14" text-anchor="start" font-weight="bold" fill="#000" stroke="#000" stroke-width="0">c</text>
<text x="661.90" y="92.90" font-size="8.2" text-anchor="start" font-weight="normal" fill="#111111" stroke="#111111" stroke-width="0.25" textLength="4.5" lengthAdjust="spacingAndGlyphs">0</text>
<text x="661.90" y="64.17" font-size="8.2" text-anchor="start" font-weight="normal" fill="#111111" stroke="#111111" stroke-width="0.25" textLength="9.0" lengthAdjust="spacingAndGlyphs">20</text>
<text x="661.90" y="35.43" font-size="8.2" text-anchor="start" font-weight="normal" fill="#111111" stroke="#111111" stroke-width="0.25" textLength="9.0" lengthAdjust="spacingAndGlyphs">40</text>
<text x="661.90" y="6.70" font-size="8.2" text-anchor="start" font-weight="normal" fill="#111111" stroke="#111111" stroke-width="0.25" textLength="9.0" lengthAdjust="spacingAndGlyphs">60</text>
<text x="682.50" y="46.05" font-size="9.0" text-anchor="middle" font-weight="normal" fill="#111111" stroke="#111111" stroke-width="0.25" transform="rotate(-90 682.5 46.05)" textLength="51.6" lengthAdjust="spacingAndGlyphs">Time (hours)</text>
<text x="35.95" y="247.75" font-size="8.3" text-anchor="end" font-weight="normal" fill="#111111" stroke="#111111" stroke-width="0.25" textLength="4.5" lengthAdjust="spacingAndGlyphs">0</text>
<text x="35.95" y="227.25" font-size="8.3" text-anchor="end" font-weight="normal" fill="#111111" stroke="#111111" stroke-width="0.25" textLength="13.5" lengthAdjust="spacingAndGlyphs">500</text>
<text x="35.95" y="206.85" font-size="8.3" text-anchor="end" font-weight="normal" fill="#111111" stroke="#111111" stroke-width="0.25" textLength="18.0" lengthAdjust="spacingAndGlyphs">1000</text>
<text x="35.95" y="186.35" font-size="8.3" text-anchor="end" font-weight="normal" fill="#111111" stroke="#111111" stroke-width="0.25" textLength="18.0" lengthAdjust="spacingAndGlyphs">1500</text>
<text x="35.95" y="165.95" font-size="8.3" text-anchor="end" font-weight="normal" fill="#111111" stroke="#111111" stroke-width="0.25" textLength="18.0" lengthAdjust="spacingAndGlyphs">2000</text>
<text x="35.95" y="145.55" font-size="8.3" text-anchor="end" font-weight="normal" fill="#111111" stroke="#111111" stroke-width="0.25" textLength="18.0" lengthAdjust="spacingAndGlyphs">2500</text>
<text x="35.95" y="125.15" font-size="8.3" text-anchor="end" font-weight="normal" fill="#111111" stroke="#111111" stroke-width="0.25" textLength="18.0" lengthAdjust="spacingAndGlyphs">3000</text>
<text x="44.35" y="259.80" font-size="8.3" text-anchor="middle" font-weight="normal" fill="#111111" stroke="#111111" stroke-width="0.25" textLength="4.5" lengthAdjust="spacingAndGlyphs">0</text>
<text x="67.35" y="259.80" font-size="8.3" text-anchor="middle" font-weight="normal" fill="#111111" stroke="#111111" stroke-width="0.25" textLength="9.0" lengthAdjust="spacingAndGlyphs">10</text>
<text x="90.35" y="259.80" font-size="8.3" text-anchor="middle" font-weight="normal" fill="#111111" stroke="#111111" stroke-width="0.25" textLength="9.0" lengthAdjust="spacingAndGlyphs">20</text>
<text x="113.35" y="259.80" font-size="8.3" text-anchor="middle" font-weight="normal" fill="#111111" stroke="#111111" stroke-width="0.25" textLength="9.0" lengthAdjust="spacingAndGlyphs">30</text>
<text x="136.35" y="259.80" font-size="8.3" text-anchor="middle" font-weight="normal" fill="#111111" stroke="#111111" stroke-width="0.25" textLength="9.0" lengthAdjust="spacingAndGlyphs">40</text>
<text x="159.35" y="259.80" font-size="8.3" text-anchor="middle" font-weight="normal" fill="#111111" stroke="#111111" stroke-width="0.25" textLength="9.0" lengthAdjust="spacingAndGlyphs">50</text>
<text x="182.35" y="259.80" font-size="8.3" text-anchor="middle" font-weight="normal" fill="#111111" stroke="#111111" stroke-width="0.25" textLength="9.0" lengthAdjust="spacingAndGlyphs">60</text>
<text x="117.35" y="272.60" font-size="9.2" text-anchor="middle" font-weight="normal" fill="#111111" stroke="#111111" stroke-width="0.25" textLength="34.2" lengthAdjust="spacingAndGlyphs">Time (h)</text>
<text x="10.10" y="183.10" font-size="9.4" text-anchor="middle" font-weight="normal" fill="#111111" stroke="#111111" stroke-width="0.25" transform="rotate(-90 10.1 183.1)" textLength="51.6" lengthAdjust="spacingAndGlyphs">Radius (<tspan font-style="italic">µm</tspan>)</text>
<text x="254.25" y="247.75" font-size="8.3" text-anchor="end" font-weight="normal" fill="#111111" stroke="#111111" stroke-width="0.25" textLength="4.5" lengthAdjust="spacingAndGlyphs">0</text>
<text x="254.25" y="231.35" font-size="8.3" text-anchor="end" font-weight="normal" fill="#111111" stroke="#111111" stroke-width="0.25" textLength="9.0" lengthAdjust="spacingAndGlyphs">50</text>
<text x="254.25" y="214.95" font-size="8.3" text-anchor="end" font-weight="normal" fill="#111111" stroke="#111111" stroke-width="0.25" textLength="13.5" lengthAdjust="spacingAndGlyphs">100</text>
<text x="254.25" y="198.55" font-size="8.3" text-anchor="end" font-weight="normal" fill="#111111" stroke="#111111" stroke-width="0.25" textLength="13.5" lengthAdjust="spacingAndGlyphs">150</text>
<text x="254.25" y="182.15" font-size="8.3" text-anchor="end" font-weight="normal" fill="#111111" stroke="#111111" stroke-width="0.25" textLength="13.5" lengthAdjust="spacingAndGlyphs">200</text>
<text x="254.25" y="165.75" font-size="8.3" text-anchor="end" font-weight="normal" fill="#111111" stroke="#111111" stroke-width="0.25" textLength="13.5" lengthAdjust="spacingAndGlyphs">250</text>
<text x="254.25" y="149.35" font-size="8.3" text-anchor="end" font-weight="normal" fill="#111111" stroke="#111111" stroke-width="0.25" textLength="13.5" lengthAdjust="spacingAndGlyphs">300</text>
<text x="254.25" y="132.95" font-size="8.3" text-anchor="end" font-weight="normal" fill="#111111" stroke="#111111" stroke-width="0.25" textLength="13.5" lengthAdjust="spacingAndGlyphs">350</text>
<text x="262.65" y="259.80" font-size="8.3" text-anchor="middle" font-weight="normal" fill="#111111" stroke="#111111" stroke-width="0.25" textLength="4.5" lengthAdjust="spacingAndGlyphs">0</text>
<text x="285.65" y="259.80" font-size="8.3" text-anchor="middle" font-weight="normal" fill="#111111" stroke="#111111" stroke-width="0.25" textLength="9.0" lengthAdjust="spacingAndGlyphs">10</text>
<text x="308.65" y="259.80" font-size="8.3" text-anchor="middle" font-weight="normal" fill="#111111" stroke="#111111" stroke-width="0.25" textLength="9.0" lengthAdjust="spacingAndGlyphs">20</text>
<text x="331.65" y="259.80" font-size="8.3" text-anchor="middle" font-weight="normal" fill="#111111" stroke="#111111" stroke-width="0.25" textLength="9.0" lengthAdjust="spacingAndGlyphs">30</text>
<text x="354.65" y="259.80" font-size="8.3" text-anchor="middle" font-weight="normal" fill="#111111" stroke="#111111" stroke-width="0.25" textLength="9.0" lengthAdjust="spacingAndGlyphs">40</text>
<text x="377.65" y="259.80" font-size="8.3" text-anchor="middle" font-weight="normal" fill="#111111" stroke="#111111" stroke-width="0.25" textLength="9.0" lengthAdjust="spacingAndGlyphs">50</text>
<text x="400.65" y="259.80" font-size="8.3" text-anchor="middle" font-weight="normal" fill="#111111" stroke="#111111" stroke-width="0.25" textLength="9.0" lengthAdjust="spacingAndGlyphs">60</text>
<text x="335.65" y="272.60" font-size="9.2" text-anchor="middle" font-weight="normal" fill="#111111" stroke="#111111" stroke-width="0.25" textLength="34.2" lengthAdjust="spacingAndGlyphs">Time (h)</text>
<text x="233.40" y="183.10" font-size="9.4" text-anchor="middle" font-weight="normal" fill="#111111" stroke="#111111" stroke-width="0.25" transform="rotate(-90 233.4 183.1)" textLength="51.3" lengthAdjust="spacingAndGlyphs">Height (<tspan font-style="italic">µm</tspan>)</text>
<text x="472.85" y="242.35" font-size="8.3" text-anchor="end" font-weight="normal" fill="#111111" stroke="#111111" stroke-width="0.25" textLength="4.5" lengthAdjust="spacingAndGlyphs">0</text>
<text x="472.85" y="214.45" font-size="8.3" text-anchor="end" font-weight="normal" fill="#111111" stroke="#111111" stroke-width="0.25" textLength="4.5" lengthAdjust="spacingAndGlyphs">1</text>
<text x="472.85" y="186.55" font-size="8.3" text-anchor="end" font-weight="normal" fill="#111111" stroke="#111111" stroke-width="0.25" textLength="4.5" lengthAdjust="spacingAndGlyphs">2</text>
<text x="472.85" y="158.65" font-size="8.3" text-anchor="end" font-weight="normal" fill="#111111" stroke="#111111" stroke-width="0.25" textLength="4.5" lengthAdjust="spacingAndGlyphs">3</text>
<text x="472.85" y="130.75" font-size="8.3" text-anchor="end" font-weight="normal" fill="#111111" stroke="#111111" stroke-width="0.25" textLength="4.5" lengthAdjust="spacingAndGlyphs">4</text>
<text x="481.25" y="259.80" font-size="8.3" text-anchor="middle" font-weight="normal" fill="#111111" stroke="#111111" stroke-width="0.25" textLength="4.5" lengthAdjust="spacingAndGlyphs">0</text>
<text x="504.25" y="259.80" font-size="8.3" text-anchor="middle" font-weight="normal" fill="#111111" stroke="#111111" stroke-width="0.25" textLength="9.0" lengthAdjust="spacingAndGlyphs">10</text>
<text x="527.25" y="259.80" font-size="8.3" text-anchor="middle" font-weight="normal" fill="#111111" stroke="#111111" stroke-width="0.25" textLength="9.0" lengthAdjust="spacingAndGlyphs">20</text>
<text x="550.25" y="259.80" font-size="8.3" text-anchor="middle" font-weight="normal" fill="#111111" stroke="#111111" stroke-width="0.25" textLength="9.0" lengthAdjust="spacingAndGlyphs">30</text>
<text x="573.25" y="259.80" font-size="8.3" text-anchor="middle" font-weight="normal" fill="#111111" stroke="#111111" stroke-width="0.25" textLength="9.0" lengthAdjust="spacingAndGlyphs">40</text>
<text x="596.25" y="259.80" font-size="8.3" text-anchor="middle" font-weight="normal" fill="#111111" stroke="#111111" stroke-width="0.25" textLength="9.0" lengthAdjust="spacingAndGlyphs">50</text>
<text x="619.25" y="259.80" font-size="8.3" text-anchor="middle" font-weight="normal" fill="#111111" stroke="#111111" stroke-width="0.25" textLength="9.0" lengthAdjust="spacingAndGlyphs">60</text>
<text x="554.25" y="272.60" font-size="9.2" text-anchor="middle" font-weight="normal" fill="#111111" stroke="#111111" stroke-width="0.25" textLength="34.2" lengthAdjust="spacingAndGlyphs">Time (h)</text>
<text x="460.90" y="183.10" font-size="9.7" text-anchor="middle" font-weight="normal" fill="#111111" stroke="#111111" stroke-width="0.25" transform="rotate(-90 460.9 183.1)" textLength="90.0" lengthAdjust="spacingAndGlyphs">Colony volume (<tspan font-style="italic">µm</tspan><tspan baseline-shift="super" font-size="7">3</tspan>)</text>
<text x="-0.90" y="117.40" font-size="13.2" text-anchor="start" font-weight="bold" fill="#000" stroke="#000" stroke-width="0">d</text>
<text x="220.40" y="116.20" font-size="13.2" text-anchor="start" font-weight="bold" fill="#000" stroke="#000" stroke-width="0">e</text>
<text x="450.10" y="117.30" font-size="13.2" text-anchor="start" font-weight="bold" fill="#000" stroke="#000" stroke-width="0">f</text>
<text x="481.90" y="118.70" font-size="8.3" text-anchor="start" font-weight="normal" fill="#111111" stroke="#111111" stroke-width="0.25" textLength="13.4" lengthAdjust="spacingAndGlyphs">1e9</text>
<text x="63.00" y="126.60" font-size="7.4" text-anchor="start" font-weight="bold" fill="#b4561e" stroke="#b4561e" stroke-width="0.05" textLength="56.9" lengthAdjust="spacingAndGlyphs">10 mM glucose</text>
<text x="63.00" y="135.80" font-size="7.4" text-anchor="start" font-weight="bold" fill="#35b3cf" stroke="#35b3cf" stroke-width="0.05" textLength="56.9" lengthAdjust="spacingAndGlyphs">20 mM glucose</text>
<text x="63.00" y="145.10" font-size="7.4" text-anchor="start" font-weight="bold" fill="#000" stroke="#000" stroke-width="0.05" textLength="56.9" lengthAdjust="spacingAndGlyphs">30 mM glucose</text></g></svg></body></html>
